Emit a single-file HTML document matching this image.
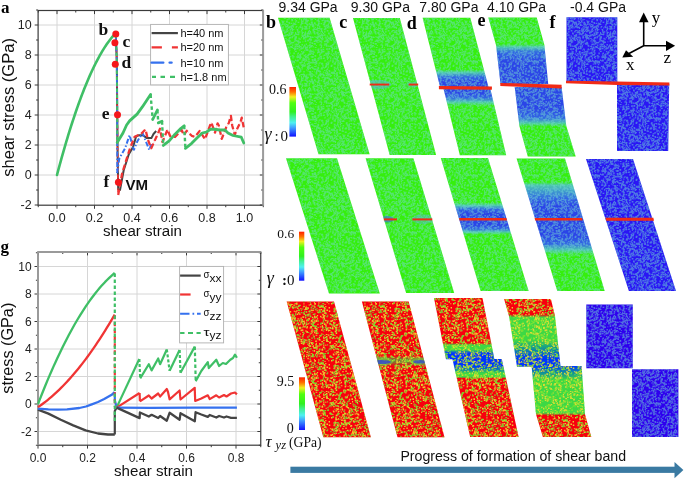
<!DOCTYPE html>
<html><head><meta charset="utf-8"><title>figure</title>
<style>html,body{margin:0;padding:0;background:#fff;} body{width:685px;height:480px;overflow:hidden;} svg{display:block;will-change:transform;}</style>
</head><body>
<svg width="685" height="480" viewBox="0 0 685 480">
<rect width="685" height="480" fill="#fff"/>
<line x1="57.00" y1="10.5" x2="57.00" y2="205.2" stroke="#d6d6d6" stroke-width="1"/>
<line x1="94.50" y1="10.5" x2="94.50" y2="205.2" stroke="#d6d6d6" stroke-width="1"/>
<line x1="132.00" y1="10.5" x2="132.00" y2="205.2" stroke="#d6d6d6" stroke-width="1"/>
<line x1="169.50" y1="10.5" x2="169.50" y2="205.2" stroke="#d6d6d6" stroke-width="1"/>
<line x1="207.00" y1="10.5" x2="207.00" y2="205.2" stroke="#d6d6d6" stroke-width="1"/>
<line x1="244.50" y1="10.5" x2="244.50" y2="205.2" stroke="#d6d6d6" stroke-width="1"/>
<line x1="38.1" y1="175.00" x2="263.2" y2="175.00" stroke="#d6d6d6" stroke-width="1"/>
<line x1="38.1" y1="145.00" x2="263.2" y2="145.00" stroke="#d6d6d6" stroke-width="1"/>
<line x1="38.1" y1="115.00" x2="263.2" y2="115.00" stroke="#d6d6d6" stroke-width="1"/>
<line x1="38.1" y1="85.00" x2="263.2" y2="85.00" stroke="#d6d6d6" stroke-width="1"/>
<line x1="38.1" y1="55.00" x2="263.2" y2="55.00" stroke="#d6d6d6" stroke-width="1"/>
<line x1="38.1" y1="25.00" x2="263.2" y2="25.00" stroke="#d6d6d6" stroke-width="1"/>
<path d="M38.25,205.2v2.0M38.25,10.5v2.0M57.00,205.2v3.6M57.00,10.5v3.6M75.75,205.2v2.0M75.75,10.5v2.0M94.50,205.2v3.6M94.50,10.5v3.6M113.25,205.2v2.0M113.25,10.5v2.0M132.00,205.2v3.6M132.00,10.5v3.6M150.75,205.2v2.0M150.75,10.5v2.0M169.50,205.2v3.6M169.50,10.5v3.6M188.25,205.2v2.0M188.25,10.5v2.0M207.00,205.2v3.6M207.00,10.5v3.6M225.75,205.2v2.0M225.75,10.5v2.0M244.50,205.2v3.6M244.50,10.5v3.6M263.25,205.2v2.0M263.25,10.5v2.0M38.1,205.00h-3.4M263.2,205.00h-3.4M38.1,190.00h-2.0M263.2,190.00h-2.0M38.1,175.00h-3.4M263.2,175.00h-3.4M38.1,160.00h-2.0M263.2,160.00h-2.0M38.1,145.00h-3.4M263.2,145.00h-3.4M38.1,130.00h-2.0M263.2,130.00h-2.0M38.1,115.00h-3.4M263.2,115.00h-3.4M38.1,100.00h-2.0M263.2,100.00h-2.0M38.1,85.00h-3.4M263.2,85.00h-3.4M38.1,70.00h-2.0M263.2,70.00h-2.0M38.1,55.00h-3.4M263.2,55.00h-3.4M38.1,40.00h-2.0M263.2,40.00h-2.0M38.1,25.00h-3.4M263.2,25.00h-3.4M38.1,10.00h-2.0M263.2,10.00h-2.0" stroke="#3a3a3a" stroke-width="1" fill="none"/>
<rect x="38.1" y="10.5" width="225.10" height="194.70" fill="none" stroke="#3a3a3a" stroke-width="1.2"/>
<line x1="263.2" y1="9.9" x2="263.2" y2="205.79999999999998" stroke="#9c9c9c" stroke-width="1.8"/>
<text x="31.60" y="209.40" font-family='"Liberation Sans", sans-serif' font-size="12.5" font-weight="normal" text-anchor="end" fill="#222" >-2</text>
<text x="31.60" y="179.40" font-family='"Liberation Sans", sans-serif' font-size="12.5" font-weight="normal" text-anchor="end" fill="#222" >0</text>
<text x="31.60" y="149.40" font-family='"Liberation Sans", sans-serif' font-size="12.5" font-weight="normal" text-anchor="end" fill="#222" >2</text>
<text x="31.60" y="119.40" font-family='"Liberation Sans", sans-serif' font-size="12.5" font-weight="normal" text-anchor="end" fill="#222" >4</text>
<text x="31.60" y="89.40" font-family='"Liberation Sans", sans-serif' font-size="12.5" font-weight="normal" text-anchor="end" fill="#222" >6</text>
<text x="31.60" y="59.40" font-family='"Liberation Sans", sans-serif' font-size="12.5" font-weight="normal" text-anchor="end" fill="#222" >8</text>
<text x="31.60" y="29.40" font-family='"Liberation Sans", sans-serif' font-size="12.5" font-weight="normal" text-anchor="end" fill="#222" >10</text>
<text x="57.00" y="221.50" font-family='"Liberation Sans", sans-serif' font-size="12.5" font-weight="normal" text-anchor="middle" fill="#222" transform-origin="0 0">0.0</text>
<text x="94.50" y="221.50" font-family='"Liberation Sans", sans-serif' font-size="12.5" font-weight="normal" text-anchor="middle" fill="#222" transform-origin="0 0">0.2</text>
<text x="132.00" y="221.50" font-family='"Liberation Sans", sans-serif' font-size="12.5" font-weight="normal" text-anchor="middle" fill="#222" transform-origin="0 0">0.4</text>
<text x="169.50" y="221.50" font-family='"Liberation Sans", sans-serif' font-size="12.5" font-weight="normal" text-anchor="middle" fill="#222" transform-origin="0 0">0.6</text>
<text x="207.00" y="221.50" font-family='"Liberation Sans", sans-serif' font-size="12.5" font-weight="normal" text-anchor="middle" fill="#222" transform-origin="0 0">0.8</text>
<text x="244.50" y="221.50" font-family='"Liberation Sans", sans-serif' font-size="12.5" font-weight="normal" text-anchor="middle" fill="#222" transform-origin="0 0">1.0</text>
<text x="103.00" y="236.30" font-family='"Liberation Sans", sans-serif' font-size="14" font-weight="normal" text-anchor="start" fill="#111" textLength="79" lengthAdjust="spacingAndGlyphs" >shear strain</text>
<text transform="translate(13.5,176.7) rotate(-90)" font-family='"Liberation Sans", sans-serif' font-size="16" fill="#111" textLength="138.6" lengthAdjust="spacingAndGlyphs">shear stress (GPa)</text>
<text x="1.00" y="13.40" font-family='"Liberation Serif", serif' font-size="17" font-weight="bold" text-anchor="start" fill="#000" >a</text>
<polyline points="57.00,175.00 57.94,171.45 58.88,167.95 59.81,164.49 60.75,161.07 61.69,157.69 62.62,154.35 63.56,151.05 64.50,147.80 65.44,144.59 66.38,141.42 67.31,138.29 68.25,135.20 69.19,132.15 70.12,129.14 71.06,126.18 72.00,123.26 72.94,120.38 73.88,117.54 74.81,114.74 75.75,111.99 76.69,109.27 77.62,106.60 78.56,103.97 79.50,101.38 80.44,98.83 81.38,96.32 82.31,93.86 83.25,91.43 84.19,89.05 85.12,86.71 86.06,84.41 87.00,82.15 87.94,79.94 88.88,77.76 89.81,75.63 90.75,73.54 91.69,71.49 92.62,69.48 93.56,67.52 94.50,65.59 95.44,63.71 96.38,61.86 97.31,60.06 98.25,58.31 99.19,56.59 100.12,54.91 101.06,53.28 102.00,51.69 102.94,50.13 103.88,48.63 104.81,47.16 105.75,45.73 106.69,44.35 107.62,43.00 108.56,41.70 109.50,40.44 110.44,39.22 111.38,38.04 112.31,36.91 113.25,35.81 114.19,34.76" fill="none" stroke="#3fbf66" stroke-width="2.6" stroke-linejoin="round" stroke-linecap="round"/>
<polyline points="115.80,34.50 116.80,60.00 117.20,110.00 117.60,150.00 118.20,190.00" fill="none" stroke="#444444" stroke-width="2.0"/>
<polyline points="115.80,34.50 116.80,60.00 117.20,110.00 117.60,150.00 118.20,195.00" fill="none" stroke="#f03434" stroke-width="1.8" stroke-dasharray="4 3"/>
<polyline points="115.80,36.00 116.80,60.00 117.20,110.00 117.20,173.00" fill="none" stroke="#3571ee" stroke-width="1.8" stroke-dasharray="5 2 1.5 2"/>
<polyline points="115.80,34.50 116.80,60.00 117.20,110.00 117.20,142.50" fill="none" stroke="#3fbf66" stroke-width="2.0" stroke-dasharray="3.5 2.5"/>
<polyline points="118.20,190.00 120.00,190.00 123.70,170.20 128.80,154.20 133.10,146.90 136.00,136.70 139.00,135.20 142.60,135.20 147.00,138.10 151.40,138.10 153.50,134.00 156.20,131.00" fill="none" stroke="#444444" stroke-width="2.0" stroke-linejoin="round"/>
<polyline points="117.10,173.10 119.30,158.50 125.10,148.30 129.50,135.20 133.90,149.80 137.50,141.00 142.60,133.00 146.30,142.50 149.20,149.80 151.40,144.00" fill="none" stroke="#3571ee" stroke-width="2.0" stroke-dasharray="5 2 1.5 2" stroke-linejoin="round"/>
<polyline points="118.20,195.00 122.20,173.10 129.50,149.80 134.60,136.70 141.20,133.70 145.50,129.40 148.00,140.00 151.25,148.30 156.70,136.25 160.00,128.75 162.50,142.00 167.50,129.60 170.00,135.80 175.00,137.00 181.70,130.00 183.75,135.00 186.70,130.80 191.70,135.80 195.00,136.70 199.70,130.90 205.00,139.25 209.70,126.30 211.30,122.60 215.00,132.60 217.60,123.40 218.80,125.50 221.75,138.80 226.30,127.20 228.80,123.00 230.90,115.90 232.20,125.50 234.70,134.70 237.20,128.80 240.50,122.20 241.75,117.60 243.80,128.00" fill="none" stroke="#f03434" stroke-width="0.4" stroke-opacity="0.5"/>
<polyline points="118.20,195.00 122.20,173.10 129.50,149.80 134.60,136.70 141.20,133.70 145.50,129.40 148.00,140.00 151.25,148.30 156.70,136.25 160.00,128.75 162.50,142.00 167.50,129.60 170.00,135.80 175.00,137.00 181.70,130.00 183.75,135.00 186.70,130.80 191.70,135.80 195.00,136.70 199.70,130.90 205.00,139.25 209.70,126.30 211.30,122.60 215.00,132.60 217.60,123.40 218.80,125.50 221.75,138.80 226.30,127.20 228.80,123.00 230.90,115.90 232.20,125.50 234.70,134.70 237.20,128.80 240.50,122.20 241.75,117.60 243.80,128.00" fill="none" stroke="#f03434" stroke-width="2.3" stroke-dasharray="5.5 3" stroke-linejoin="round"/>
<polyline points="117.20,142.50 123.00,133.00 126.60,125.00 129.60,120.90 137.10,114.10 142.50,106.70 150.60,94.50" fill="none" stroke="#3fbf66" stroke-width="2.8" stroke-linejoin="round" stroke-linecap="round"/>
<polyline points="152.70,119.50 157.40,110.00" fill="none" stroke="#3fbf66" stroke-width="2.8" stroke-linejoin="round" stroke-linecap="round"/>
<polyline points="158.30,122.90 162.00,121.25" fill="none" stroke="#3fbf66" stroke-width="2.8" stroke-linejoin="round" stroke-linecap="round"/>
<polyline points="163.30,145.40 169.20,140.80 175.00,134.20 180.00,129.20 184.20,125.80" fill="none" stroke="#3fbf66" stroke-width="2.8" stroke-linejoin="round" stroke-linecap="round"/>
<polyline points="185.40,148.30 191.70,143.30 196.70,138.30 202.20,133.00 206.30,132.20 210.50,129.25 214.70,129.25 219.70,130.00 224.70,129.80 228.00,133.00 233.00,135.50 241.30,137.20 243.80,143.00" fill="none" stroke="#3fbf66" stroke-width="2.8" stroke-linejoin="round" stroke-linecap="round"/>
<polyline points="150.60,94.50 152.70,119.50" fill="none" stroke="#3fbf66" stroke-width="2.4" stroke-dasharray="3.5 2.5"/>
<polyline points="157.40,110.00 158.30,122.90" fill="none" stroke="#3fbf66" stroke-width="2.4" stroke-dasharray="3.5 2.5"/>
<polyline points="162.00,121.25 163.30,145.40" fill="none" stroke="#3fbf66" stroke-width="2.4" stroke-dasharray="3.5 2.5"/>
<polyline points="184.20,125.80 185.40,148.30" fill="none" stroke="#3fbf66" stroke-width="2.4" stroke-dasharray="3.5 2.5"/>
<circle cx="115.8" cy="34.1" r="3.5" fill="#f5171b"/>
<circle cx="114.9" cy="42.7" r="3.5" fill="#f5171b"/>
<circle cx="115.3" cy="64.2" r="3.5" fill="#f5171b"/>
<circle cx="117.5" cy="114.7" r="3.5" fill="#f5171b"/>
<circle cx="118.4" cy="182.2" r="3.5" fill="#f5171b"/>
<text x="98.60" y="34.70" font-family='"Liberation Serif", serif' font-size="17.5" font-weight="bold" text-anchor="start" fill="#111" >b</text>
<text x="122.60" y="47.20" font-family='"Liberation Serif", serif' font-size="17.5" font-weight="bold" text-anchor="start" fill="#111" >c</text>
<text x="121.60" y="67.80" font-family='"Liberation Serif", serif' font-size="17.5" font-weight="bold" text-anchor="start" fill="#111" >d</text>
<text x="101.80" y="119.00" font-family='"Liberation Serif", serif' font-size="17.5" font-weight="bold" text-anchor="start" fill="#111" >e</text>
<text x="103.40" y="187.20" font-family='"Liberation Serif", serif' font-size="17.5" font-weight="bold" text-anchor="start" fill="#111" >f</text>
<text x="125.50" y="190.00" font-family='"Liberation Sans", sans-serif' font-size="14" font-weight="bold" text-anchor="start" fill="#111" textLength="22.6" lengthAdjust="spacingAndGlyphs" >VM</text>
<rect x="150.6" y="24.4" width="77.8" height="60.5" fill="#fff" stroke="#b0b0b0" stroke-width="0.9"/>
<line x1="151.6" y1="33.1" x2="177.9" y2="33.1" stroke="#444444" stroke-width="2.2"/>
<line x1="151.6" y1="47.4" x2="177.9" y2="47.4" stroke="#f03434" stroke-width="2.2" stroke-dasharray="10.3 10 6"/>
<path d="M151.6,62.6H163.3M169.6,62.6H171.6" stroke="#3571ee" stroke-width="2.4" stroke-linecap="round"/>
<path d="M152,76.9h4M160.5,76.9h4.5M170,76.9h5" stroke="#3fbf66" stroke-width="2.2"/>
<text x="180.40" y="37.00" font-family='"Liberation Sans", sans-serif' font-size="11" font-weight="normal" text-anchor="start" fill="#111" >h=40 nm</text>
<text x="180.40" y="51.30" font-family='"Liberation Sans", sans-serif' font-size="11" font-weight="normal" text-anchor="start" fill="#111" >h=20 nm</text>
<text x="180.40" y="66.50" font-family='"Liberation Sans", sans-serif' font-size="11" font-weight="normal" text-anchor="start" fill="#111" >h=10 nm</text>
<text x="180.40" y="80.80" font-family='"Liberation Sans", sans-serif' font-size="11" font-weight="normal" text-anchor="start" fill="#111" >h=1.8 nm</text>
<line x1="87.50" y1="252.0" x2="87.50" y2="445.2" stroke="#d6d6d6" stroke-width="1"/>
<line x1="137.00" y1="252.0" x2="137.00" y2="445.2" stroke="#d6d6d6" stroke-width="1"/>
<line x1="186.50" y1="252.0" x2="186.50" y2="445.2" stroke="#d6d6d6" stroke-width="1"/>
<line x1="236.00" y1="252.0" x2="236.00" y2="445.2" stroke="#d6d6d6" stroke-width="1"/>
<line x1="37.9" y1="431.50" x2="260.75" y2="431.50" stroke="#d6d6d6" stroke-width="1"/>
<line x1="37.9" y1="404.00" x2="260.75" y2="404.00" stroke="#d6d6d6" stroke-width="1"/>
<line x1="37.9" y1="376.50" x2="260.75" y2="376.50" stroke="#d6d6d6" stroke-width="1"/>
<line x1="37.9" y1="349.00" x2="260.75" y2="349.00" stroke="#d6d6d6" stroke-width="1"/>
<line x1="37.9" y1="321.50" x2="260.75" y2="321.50" stroke="#d6d6d6" stroke-width="1"/>
<line x1="37.9" y1="294.00" x2="260.75" y2="294.00" stroke="#d6d6d6" stroke-width="1"/>
<line x1="37.9" y1="266.50" x2="260.75" y2="266.50" stroke="#d6d6d6" stroke-width="1"/>
<path d="M38.00,445.2v3.4M38.00,252.0v3.4M62.75,445.2v2.0M62.75,252.0v2.0M87.50,445.2v3.4M87.50,252.0v3.4M112.25,445.2v2.0M112.25,252.0v2.0M137.00,445.2v3.4M137.00,252.0v3.4M161.75,445.2v2.0M161.75,252.0v2.0M186.50,445.2v3.4M186.50,252.0v3.4M211.25,445.2v2.0M211.25,252.0v2.0M236.00,445.2v3.4M236.00,252.0v3.4M260.75,445.2v2.0M260.75,252.0v2.0M37.9,445.25h-2.0M260.75,445.25h-2.0M37.9,431.50h-3.4M260.75,431.50h-3.4M37.9,417.75h-2.0M260.75,417.75h-2.0M37.9,404.00h-3.4M260.75,404.00h-3.4M37.9,390.25h-2.0M260.75,390.25h-2.0M37.9,376.50h-3.4M260.75,376.50h-3.4M37.9,362.75h-2.0M260.75,362.75h-2.0M37.9,349.00h-3.4M260.75,349.00h-3.4M37.9,335.25h-2.0M260.75,335.25h-2.0M37.9,321.50h-3.4M260.75,321.50h-3.4M37.9,307.75h-2.0M260.75,307.75h-2.0M37.9,294.00h-3.4M260.75,294.00h-3.4M37.9,280.25h-2.0M260.75,280.25h-2.0M37.9,266.50h-3.4M260.75,266.50h-3.4M37.9,252.75h-2.0M260.75,252.75h-2.0" stroke="#3a3a3a" stroke-width="1" fill="none"/>
<rect x="37.9" y="252.0" width="222.85" height="193.20" fill="none" stroke="#3a3a3a" stroke-width="1.2"/>
<line x1="37.9" y1="252.0" x2="37.9" y2="445.2" stroke="#9a9a9a" stroke-width="1.8"/>
<line x1="37.9" y1="252.0" x2="260.75" y2="252.0" stroke="#9a9a9a" stroke-width="1.8"/>
<text x="31.60" y="435.70" font-family='"Liberation Sans", sans-serif' font-size="12" font-weight="normal" text-anchor="end" fill="#222" >-2</text>
<text x="31.60" y="408.20" font-family='"Liberation Sans", sans-serif' font-size="12" font-weight="normal" text-anchor="end" fill="#222" >0</text>
<text x="31.60" y="380.70" font-family='"Liberation Sans", sans-serif' font-size="12" font-weight="normal" text-anchor="end" fill="#222" >2</text>
<text x="31.60" y="353.20" font-family='"Liberation Sans", sans-serif' font-size="12" font-weight="normal" text-anchor="end" fill="#222" >4</text>
<text x="31.60" y="325.70" font-family='"Liberation Sans", sans-serif' font-size="12" font-weight="normal" text-anchor="end" fill="#222" >6</text>
<text x="31.60" y="298.20" font-family='"Liberation Sans", sans-serif' font-size="12" font-weight="normal" text-anchor="end" fill="#222" >8</text>
<text x="31.60" y="270.70" font-family='"Liberation Sans", sans-serif' font-size="12" font-weight="normal" text-anchor="end" fill="#222" >10</text>
<text x="38.00" y="461.60" font-family='"Liberation Sans", sans-serif' font-size="12" font-weight="normal" text-anchor="middle" fill="#222" >0.0</text>
<text x="87.50" y="461.60" font-family='"Liberation Sans", sans-serif' font-size="12" font-weight="normal" text-anchor="middle" fill="#222" >0.2</text>
<text x="137.00" y="461.60" font-family='"Liberation Sans", sans-serif' font-size="12" font-weight="normal" text-anchor="middle" fill="#222" >0.4</text>
<text x="186.50" y="461.60" font-family='"Liberation Sans", sans-serif' font-size="12" font-weight="normal" text-anchor="middle" fill="#222" >0.6</text>
<text x="236.00" y="461.60" font-family='"Liberation Sans", sans-serif' font-size="12" font-weight="normal" text-anchor="middle" fill="#222" >0.8</text>
<text x="114.00" y="475.80" font-family='"Liberation Sans", sans-serif' font-size="14" font-weight="normal" text-anchor="start" fill="#111" textLength="79" lengthAdjust="spacingAndGlyphs" >shear strain</text>
<text transform="translate(13.4,393.7) rotate(-90)" font-family='"Liberation Sans", sans-serif' font-size="16" fill="#111" textLength="91" lengthAdjust="spacingAndGlyphs">stress (GPa)</text>
<text x="0.50" y="252.00" font-family='"Liberation Serif", serif' font-size="17" font-weight="bold" text-anchor="start" fill="#000" >g</text>
<polyline points="37.90,409.60 48.40,413.60 60.80,419.80 73.20,425.40 85.60,430.40 98.00,433.50 108.00,434.50 114.80,434.50" fill="none" stroke="#444444" stroke-width="2.3" stroke-linejoin="round"/>
<polyline points="37.90,408.60 48.40,409.30 58.00,409.60 67.00,409.30 79.40,408.00 86.00,406.50 91.80,404.30 98.00,402.00 104.20,399.00 111.70,394.80 114.60,392.20" fill="none" stroke="#3571ee" stroke-width="2.3" stroke-linejoin="round"/>
<polyline points="38.00,407.16 39.92,405.84 41.84,404.46 43.75,403.04 45.67,401.56 47.59,400.04 49.51,398.46 51.43,396.83 53.34,395.15 55.26,393.42 57.18,391.64 59.10,389.81 61.02,387.92 62.94,385.99 64.85,384.01 66.77,381.97 68.69,379.88 70.61,377.75 72.53,375.56 74.44,373.32 76.36,371.03 78.28,368.69 80.20,366.30 82.12,363.85 84.03,361.36 85.95,358.82 87.87,356.22 89.79,353.58 91.71,350.88 93.63,348.13 95.54,345.33 97.46,342.48 99.38,339.58 101.30,336.63 103.22,333.63 105.13,330.58 107.05,327.47 108.97,324.32 110.89,321.11 112.81,317.85 114.72,314.55" fill="none" stroke="#f03434" stroke-width="2.3" stroke-linejoin="round"/>
<polyline points="38.00,404.00 39.92,399.07 41.84,394.22 43.75,389.45 45.67,384.77 47.59,380.18 49.51,375.67 51.43,371.25 53.34,366.91 55.26,362.66 57.18,358.49 59.10,354.41 61.02,350.41 62.94,346.49 64.85,342.67 66.77,338.92 68.69,335.26 70.61,331.69 72.53,328.20 74.44,324.80 76.36,321.48 78.28,318.25 80.20,315.10 82.12,312.04 84.03,309.06 85.95,306.17 87.87,303.36 89.79,300.64 91.71,298.00 93.63,295.45 95.54,292.98 97.46,290.60 99.38,288.31 101.30,286.09 103.22,283.97 105.13,281.92 107.05,279.97 108.97,278.10 110.89,276.31 112.81,274.61 114.72,272.99" fill="none" stroke="#3fbf66" stroke-width="2.3" stroke-linejoin="round"/>
<polyline points="114.80,434.50 114.80,411.00 116.60,407.60" fill="none" stroke="#444444" stroke-width="2.2"/>
<polyline points="114.80,392.20 114.80,400.00 116.60,407.60" fill="none" stroke="#3571ee" stroke-width="2.2"/>
<polyline points="114.80,315.31 114.80,407.00" fill="none" stroke="#f03434" stroke-width="2.2" stroke-dasharray="4 3"/>
<polyline points="114.80,273.38 114.80,422.00" fill="none" stroke="#3fbf66" stroke-width="2.2" stroke-dasharray="3.5 2.5"/>
<polyline points="116.60,407.60 139.30,359.00" fill="none" stroke="#3fbf66" stroke-width="2.2"/>
<polyline points="139.30,359.00 140.20,378.40" fill="none" stroke="#3fbf66" stroke-width="2.2" stroke-dasharray="3 2"/>
<polyline points="140.20,378.40 148.80,364.20 151.60,370.40 158.20,358.50 160.10,364.20 166.80,349.50" fill="none" stroke="#3fbf66" stroke-width="2.2" stroke-linejoin="round"/>
<polyline points="166.80,349.50 169.60,370.80" fill="none" stroke="#3fbf66" stroke-width="2.2" stroke-dasharray="3 2"/>
<polyline points="169.60,370.80 179.60,350.00" fill="none" stroke="#3fbf66" stroke-width="2.2" stroke-linejoin="round"/>
<polyline points="179.60,350.00 180.50,372.70" fill="none" stroke="#3fbf66" stroke-width="2.2" stroke-dasharray="3 2"/>
<polyline points="180.50,372.70 194.80,346.60" fill="none" stroke="#3fbf66" stroke-width="2.2" stroke-linejoin="round"/>
<polyline points="194.80,346.60 195.70,380.50" fill="none" stroke="#3fbf66" stroke-width="2.2" stroke-dasharray="3.5 2.5"/>
<polyline points="195.70,381.30 201.30,371.00 207.80,362.10 208.80,368.10 216.30,359.70 219.10,366.00 222.80,363.00 226.00,364.00 230.30,359.70 233.00,358.00 235.00,354.60 236.90,357.80" fill="none" stroke="#3fbf66" stroke-width="2.2" stroke-linejoin="round"/>
<polyline points="116.60,407.60 139.60,393.00" fill="none" stroke="#f03434" stroke-width="2.2"/>
<polyline points="139.60,393.00 139.90,401.30" fill="none" stroke="#f03434" stroke-width="2.2"/>
<polyline points="139.90,401.30 148.80,395.50 151.60,398.50 158.20,393.50 160.10,396.50 166.80,389.00 168.00,392.00 169.60,399.30 179.60,390.50 180.50,399.50 194.70,387.80 195.20,401.00 201.30,398.50 207.80,395.30 209.70,399.10 216.30,395.30 219.10,397.50 224.00,395.00 226.50,396.50 231.00,393.50 235.00,392.50 236.90,394.40" fill="none" stroke="#f03434" stroke-width="2.2" stroke-linejoin="round"/>
<polyline points="116.60,407.60 150.00,407.80 195.00,407.60 236.90,407.60" fill="none" stroke="#3571ee" stroke-width="2.3"/>
<polyline points="116.60,407.60 139.60,418.10 139.90,412.50 148.80,416.50 151.60,414.80 158.20,418.00 160.10,416.00 166.80,420.70 169.60,412.80 179.60,419.70 180.50,413.20 194.80,421.30 195.60,412.20 201.30,414.50 207.80,416.90 209.70,415.00 216.30,417.50 219.10,416.00 224.00,417.50 226.50,416.50 231.00,417.80 236.90,417.90" fill="none" stroke="#444444" stroke-width="2.3" stroke-linejoin="round"/>
<rect x="179.6" y="266.4" width="44" height="76.5" fill="#fff" stroke="#b0b0b0" stroke-width="0.9"/>
<line x1="180.1" y1="275.6" x2="200.7" y2="275.6" stroke="#444444" stroke-width="2.2"/>
<line x1="180.1" y1="294.5" x2="190.6" y2="294.5" stroke="#f03434" stroke-width="2.2"/>
<path d="M180.1,313.75H189.5M192.5,313.75H194.2M197,313.75H200.7" stroke="#3571ee" stroke-width="2.2"/>
<path d="M180.1,333.0H184.5M188,333.0H193M196.5,333.0H200.7" stroke="#3fbf66" stroke-width="2.2"/>
<text x="203.60" y="278.20" font-family='"Liberation Sans", sans-serif' font-size="10" font-weight="normal" text-anchor="start" fill="#111" textLength="6.0" lengthAdjust="spacingAndGlyphs" >σ</text>
<text x="209.60" y="281.60" font-family='"Liberation Sans", sans-serif' font-size="11.5" font-weight="normal" text-anchor="start" fill="#111" textLength="12.0" lengthAdjust="spacingAndGlyphs" >xx</text>
<text x="203.60" y="297.10" font-family='"Liberation Sans", sans-serif' font-size="10" font-weight="normal" text-anchor="start" fill="#111" textLength="6.0" lengthAdjust="spacingAndGlyphs" >σ</text>
<text x="209.60" y="300.50" font-family='"Liberation Sans", sans-serif' font-size="11.5" font-weight="normal" text-anchor="start" fill="#111" textLength="12.0" lengthAdjust="spacingAndGlyphs" >yy</text>
<text x="203.60" y="316.35" font-family='"Liberation Sans", sans-serif' font-size="10" font-weight="normal" text-anchor="start" fill="#111" textLength="6.0" lengthAdjust="spacingAndGlyphs" >σ</text>
<text x="209.60" y="319.75" font-family='"Liberation Sans", sans-serif' font-size="11.5" font-weight="normal" text-anchor="start" fill="#111" textLength="12.0" lengthAdjust="spacingAndGlyphs" >zz</text>
<text x="203.60" y="335.60" font-family='"Liberation Sans", sans-serif' font-size="10" font-weight="normal" text-anchor="start" fill="#111" textLength="6.0" lengthAdjust="spacingAndGlyphs" >τ</text>
<text x="209.60" y="339.00" font-family='"Liberation Sans", sans-serif' font-size="11.5" font-weight="normal" text-anchor="start" fill="#111" textLength="12.0" lengthAdjust="spacingAndGlyphs" >yz</text>
<defs>
<pattern id="pc" patternUnits="userSpaceOnUse" width="61" height="57"><path d="M27.6 31.9h1.7v1.3h-1.7zM31.0 33.5h1.0v1.3h-1.0zM38.4 45.2h0.9v1.1h-0.9zM5.5 46.1h1.5v0.8h-1.5zM59.9 55.0h1.5v1.4h-1.5zM-1.1 55.0h1.5v1.4h-1.5zM9.6 0.9h1.3v0.9h-1.3zM11.6 13.8h0.8v1.3h-0.8zM26.9 48.0h1.3v1.4h-1.3zM30.5 37.8h1.3v1.1h-1.3zM60.9 56.8h1.6v1.5h-1.6zM60.9 -0.2h1.6v1.5h-1.6zM-0.1 56.8h1.6v1.5h-1.6zM-0.1 -0.2h1.6v1.5h-1.6zM19.2 13.1h1.1v0.9h-1.1zM46.7 22.8h1.6v1.2h-1.6zM58.4 48.3h0.8v1.0h-0.8zM55.5 26.8h1.8v1.2h-1.8zM4.5 35.9h1.6v1.1h-1.6zM5.3 19.0h1.8v1.6h-1.8zM7.2 14.0h0.9v0.9h-0.9zM48.6 10.1h1.4v1.2h-1.4zM11.6 41.7h0.9v1.4h-0.9zM7.1 24.0h1.0v1.1h-1.0zM59.2 45.8h1.1v1.7h-1.1zM12.9 22.5h1.7v1.4h-1.7zM6.1 56.4h1.0v1.1h-1.0zM6.1 -0.6h1.0v1.1h-1.0zM47.1 18.8h1.1v0.9h-1.1zM5.5 33.2h1.0v1.4h-1.0zM22.7 25.8h1.8v1.3h-1.8zM35.0 49.4h1.0v1.0h-1.0zM55.4 46.6h1.0v1.0h-1.0zM45.1 53.6h1.0v1.8h-1.0zM53.8 34.4h1.2v0.9h-1.2zM2.4 54.9h1.0v1.5h-1.0zM15.7 47.0h1.4v1.1h-1.4zM10.7 41.1h0.9v1.0h-0.9zM34.1 48.6h1.4v1.1h-1.4zM56.0 11.6h0.8v1.1h-0.8zM27.2 3.4h1.0v1.2h-1.0zM34.9 7.5h1.2v1.7h-1.2zM59.8 37.4h1.5v1.4h-1.5zM-1.2 37.4h1.5v1.4h-1.5zM8.6 2.0h0.8v1.7h-0.8zM42.8 54.9h0.8v1.4h-0.8zM29.4 41.6h1.1v1.8h-1.1zM4.6 31.1h1.5v1.7h-1.5zM45.0 40.1h1.6v1.7h-1.6zM21.5 39.1h1.7v1.7h-1.7zM25.4 45.1h1.7v1.4h-1.7zM38.1 21.8h1.4v1.4h-1.4zM4.9 36.4h1.8v1.7h-1.8zM44.4 22.1h1.5v1.4h-1.5zM26.9 47.8h0.9v1.6h-0.9zM1.8 34.3h1.3v1.0h-1.3zM42.6 28.3h1.4v1.7h-1.4zM15.6 0.6h1.1v1.5h-1.1zM12.4 9.7h1.7v1.5h-1.7zM27.0 50.8h1.1v1.5h-1.1zM12.1 24.6h1.6v1.7h-1.6zM53.7 21.9h1.4v1.1h-1.4zM8.3 28.3h1.6v1.6h-1.6zM43.4 54.2h1.1v1.0h-1.1zM27.5 15.7h1.0v1.2h-1.0zM38.2 28.2h1.1v1.6h-1.1zM59.9 25.8h0.9v0.8h-0.9zM53.2 2.4h1.5v1.4h-1.5zM18.9 45.1h0.8v0.9h-0.8zM27.7 1.4h1.6v1.0h-1.6zM8.6 2.7h1.4v1.2h-1.4zM38.4 37.3h1.6v1.8h-1.6zM41.8 11.4h1.3v1.0h-1.3zM0.7 26.9h1.5v1.0h-1.5zM16.6 19.7h1.5v1.3h-1.5zM37.5 43.1h1.2v1.6h-1.2zM55.3 5.0h1.7v1.5h-1.7zM7.9 25.9h1.4v1.7h-1.4zM23.0 32.4h1.7v1.6h-1.7zM57.6 26.4h1.5v1.0h-1.5zM44.0 46.6h1.4v1.5h-1.4zM13.0 51.3h1.8v1.8h-1.8zM32.8 45.1h1.1v1.7h-1.1zM52.2 19.9h0.9v1.2h-0.9zM33.6 43.8h1.3v0.8h-1.3zM49.4 3.7h1.6v1.0h-1.6zM20.4 44.9h0.9v0.9h-0.9zM31.5 41.2h1.6v1.5h-1.6zM57.7 28.1h1.7v0.9h-1.7zM13.5 30.0h1.1v1.5h-1.1zM39.0 29.8h1.6v1.4h-1.6zM19.0 21.7h1.6v1.7h-1.6zM12.7 48.5h1.8v1.3h-1.8zM35.0 11.5h1.3v1.3h-1.3zM36.9 1.6h1.8v1.3h-1.8zM24.4 45.7h1.4v1.3h-1.4zM42.2 3.8h1.3v1.2h-1.3zM58.4 52.6h1.1v1.3h-1.1zM7.7 24.7h1.6v1.7h-1.6zM29.1 18.1h1.0v1.4h-1.0zM56.4 7.4h1.6v0.8h-1.6zM11.8 13.0h1.5v1.1h-1.5zM21.7 35.3h0.9v1.5h-0.9zM7.5 29.1h1.1v1.0h-1.1zM32.4 24.9h1.2v1.2h-1.2zM32.3 9.1h1.0v1.4h-1.0zM38.9 30.2h1.7v1.4h-1.7zM52.3 13.3h1.5v1.6h-1.5zM55.1 18.0h1.1v1.7h-1.1zM13.3 56.9h1.7v0.9h-1.7zM13.3 -0.1h1.7v0.9h-1.7zM14.6 41.4h1.1v0.9h-1.1zM50.8 24.0h1.6v0.9h-1.6zM24.6 39.1h0.8v1.0h-0.8zM41.6 51.9h1.8v0.9h-1.8zM30.8 43.2h1.3v1.5h-1.3zM11.5 4.0h0.9v0.8h-0.9zM33.7 29.3h1.4v0.9h-1.4zM11.3 11.6h1.6v1.8h-1.6zM56.5 5.4h0.9v1.8h-0.9zM28.2 43.6h1.1v1.3h-1.1zM31.4 24.5h1.4v0.8h-1.4zM42.8 48.1h1.0v1.3h-1.0zM45.1 23.1h1.0v1.0h-1.0zM31.3 0.9h1.7v1.6h-1.7zM43.0 49.1h1.4v1.2h-1.4zM36.6 28.7h1.8v1.6h-1.8zM15.8 51.9h1.5v1.6h-1.5zM49.7 23.1h1.7v1.7h-1.7zM42.4 43.7h1.6v1.2h-1.6zM44.1 4.0h1.1v1.3h-1.1zM0.6 20.3h1.4v1.4h-1.4zM14.2 53.8h1.5v1.1h-1.5zM40.2 32.5h1.3v1.2h-1.3zM61.0 36.6h1.5v1.6h-1.5zM-0.0 36.6h1.5v1.6h-1.5zM59.8 1.3h1.4v1.5h-1.4zM-1.2 1.3h1.4v1.5h-1.4zM15.7 22.9h0.9v1.0h-0.9zM22.9 5.6h1.1v1.7h-1.1zM33.6 28.9h1.8v1.4h-1.8zM60.7 36.4h1.6v0.9h-1.6zM-0.3 36.4h1.6v0.9h-1.6zM36.4 43.3h0.8v1.7h-0.8zM9.8 26.9h1.0v1.3h-1.0zM37.3 3.3h1.7v1.2h-1.7zM32.1 34.1h1.2v1.1h-1.2zM40.0 32.0h1.1v1.5h-1.1zM18.1 0.8h1.0v0.8h-1.0zM9.6 43.0h1.2v1.7h-1.2zM45.7 2.9h1.8v1.7h-1.8zM4.5 51.6h1.2v1.3h-1.2zM59.4 13.9h1.3v1.7h-1.3zM44.1 26.7h1.8v1.6h-1.8zM36.8 6.6h1.4v1.3h-1.4zM12.4 3.0h1.3v0.9h-1.3zM27.0 38.1h1.3v1.1h-1.3zM35.5 23.9h1.6v1.3h-1.6zM60.9 54.3h1.5v1.0h-1.5zM-0.1 54.3h1.5v1.0h-1.5zM6.9 50.9h1.6v1.4h-1.6zM21.9 15.5h1.5v1.4h-1.5zM36.1 36.1h1.6v1.0h-1.6zM15.2 55.8h1.7v1.7h-1.7zM15.2 -1.2h1.7v1.7h-1.7zM2.4 3.5h1.1v1.2h-1.1zM38.0 5.8h1.3v0.9h-1.3zM5.3 38.5h1.4v1.4h-1.4zM22.8 27.3h1.0v1.1h-1.0zM45.4 47.8h0.9v0.9h-0.9zM49.4 35.6h1.6v1.0h-1.6zM25.9 14.7h1.6v1.2h-1.6zM39.9 56.4h1.1v1.3h-1.1zM39.9 -0.6h1.1v1.3h-1.1zM45.5 52.5h1.2v1.2h-1.2zM5.9 49.9h0.9v0.9h-0.9zM34.4 27.6h1.5v1.1h-1.5zM47.3 4.3h1.0v1.5h-1.0zM5.0 17.3h1.5v1.5h-1.5zM17.3 8.1h1.2v1.5h-1.2zM22.4 6.7h1.5v1.4h-1.5zM56.0 53.6h1.7v1.2h-1.7zM49.0 17.4h1.1v1.2h-1.1zM57.0 51.0h1.0v1.2h-1.0zM22.3 20.7h1.2v1.2h-1.2zM11.9 32.1h1.6v1.3h-1.6zM51.0 32.1h1.0v1.6h-1.0zM53.7 16.0h0.8v1.3h-0.8zM33.2 32.3h1.8v1.5h-1.8zM49.1 3.7h1.3v1.6h-1.3zM5.1 4.7h1.5v1.7h-1.5zM5.2 36.1h0.9v1.5h-0.9zM39.6 14.0h1.0v1.6h-1.0zM31.8 43.6h1.2v1.1h-1.2zM59.1 38.3h1.3v1.3h-1.3zM44.0 40.4h1.7v1.2h-1.7zM50.4 38.0h1.7v1.6h-1.7zM50.9 50.7h1.8v1.4h-1.8zM32.0 40.5h1.6v1.2h-1.6zM25.6 8.3h1.5v1.8h-1.5zM22.9 9.6h1.0v1.2h-1.0zM17.8 55.3h0.9v1.1h-0.9zM7.0 36.9h1.6v1.0h-1.6zM3.8 26.1h1.4v1.7h-1.4zM2.2 6.2h1.0v1.0h-1.0zM14.4 40.9h1.4v1.0h-1.4zM11.3 16.0h1.0v1.6h-1.0zM19.0 31.2h1.6v1.3h-1.6zM15.9 50.6h1.7v1.1h-1.7zM33.4 54.6h1.3v1.0h-1.3zM3.0 54.0h1.6v1.2h-1.6zM32.2 29.4h1.1v1.8h-1.1zM40.1 13.5h0.8v1.3h-0.8zM22.7 45.4h1.5v1.4h-1.5zM9.6 8.9h1.1v1.1h-1.1zM53.0 29.4h1.4v1.8h-1.4zM16.3 30.5h1.0v1.6h-1.0zM0.1 46.8h1.6v1.6h-1.6zM5.0 15.4h1.5v0.9h-1.5zM29.3 26.7h1.8v1.4h-1.8zM52.3 17.3h1.6v1.2h-1.6zM55.9 5.2h1.6v1.0h-1.6zM33.1 30.0h1.0v1.6h-1.0zM19.0 17.7h0.9v1.1h-0.9zM28.5 40.8h1.2v1.5h-1.2zM6.5 22.5h1.3v1.8h-1.3zM50.6 37.3h0.8v1.2h-0.8zM43.3 13.5h1.4v1.3h-1.4zM0.6 56.5h1.6v1.0h-1.6zM0.6 -0.5h1.6v1.0h-1.6zM37.6 16.6h1.2v1.3h-1.2zM18.2 19.2h1.2v1.5h-1.2zM15.6 11.4h1.5v1.1h-1.5zM57.6 32.1h1.5v1.1h-1.5zM50.4 5.3h0.9v0.9h-0.9zM41.3 40.4h1.0v1.2h-1.0zM51.1 33.8h0.9v1.0h-0.9zM9.6 7.1h1.2v0.9h-1.2zM56.2 24.3h1.3v1.4h-1.3zM46.8 46.8h1.2v1.1h-1.2zM25.1 0.9h1.2v1.5h-1.2zM59.9 45.0h1.5v1.4h-1.5zM-1.1 45.0h1.5v1.4h-1.5zM1.1 18.9h1.1v1.5h-1.1zM6.5 21.5h1.3v1.6h-1.3zM50.3 34.9h1.0v1.6h-1.0zM55.1 31.3h1.2v1.3h-1.2zM8.6 40.7h1.8v1.3h-1.8zM43.6 47.6h1.0v1.7h-1.0zM38.3 11.3h0.9v1.0h-0.9zM35.2 39.7h1.1v1.7h-1.1zM22.0 26.4h0.9v1.8h-0.9zM8.3 51.5h1.3v1.4h-1.3zM34.2 15.1h1.7v1.8h-1.7zM49.9 34.3h0.9v1.6h-0.9zM17.6 51.1h1.0v1.4h-1.0zM50.7 10.6h1.3v0.9h-1.3zM2.0 10.3h1.8v1.7h-1.8zM40.2 17.5h1.5v1.5h-1.5zM23.3 33.7h1.6v0.8h-1.6zM12.2 26.7h0.9v1.2h-0.9zM34.7 9.9h1.3v1.1h-1.3zM34.7 18.9h1.4v0.8h-1.4zM40.9 8.3h1.8v1.4h-1.8zM28.7 23.5h1.4v1.5h-1.4zM46.2 42.8h1.3v1.8h-1.3zM51.1 48.7h1.2v1.2h-1.2zM34.5 51.6h1.3v1.3h-1.3zM26.4 51.5h1.1v0.9h-1.1zM44.3 51.3h1.5v1.4h-1.5zM45.9 17.4h1.4v0.9h-1.4zM7.6 25.5h1.3v1.2h-1.3zM3.2 39.6h1.3v1.0h-1.3zM18.7 22.5h1.0v0.9h-1.0zM55.6 55.1h1.5v1.7h-1.5zM25.7 45.9h1.0v1.5h-1.0zM34.6 51.5h0.9v1.6h-0.9zM7.6 30.6h1.8v0.8h-1.8zM14.9 17.1h1.1v0.9h-1.1zM54.6 46.5h1.2v1.2h-1.2zM35.7 2.6h0.8v1.7h-0.8zM18.8 28.4h1.7v1.8h-1.7zM28.8 11.8h1.1v1.7h-1.1zM54.7 11.1h1.6v1.2h-1.6zM28.8 9.8h1.7v1.8h-1.7zM12.3 36.0h1.0v1.7h-1.0zM3.1 6.0h1.5v1.1h-1.5zM54.9 49.6h1.5v0.9h-1.5zM42.5 53.5h1.2v0.9h-1.2zM13.6 17.5h1.5v1.0h-1.5zM11.0 13.4h1.5v1.6h-1.5zM22.7 37.7h1.7v1.4h-1.7zM14.0 17.2h1.7v1.5h-1.7zM16.9 36.5h0.9v1.8h-0.9zM26.9 30.1h1.3v0.8h-1.3zM36.6 16.2h1.1v1.6h-1.1zM5.3 16.3h1.6v1.0h-1.6zM17.0 31.2h1.0v1.7h-1.0zM60.3 1.9h1.3v1.6h-1.3zM-0.7 1.9h1.3v1.6h-1.3zM23.5 53.0h1.3v1.0h-1.3zM33.9 36.8h1.2v1.5h-1.2zM47.8 29.5h1.3v1.6h-1.3zM41.7 29.7h1.8v1.0h-1.8zM47.6 9.4h1.4v1.0h-1.4zM26.9 44.1h1.6v1.6h-1.6zM14.4 27.9h1.0v1.4h-1.0zM30.4 2.0h1.4v1.5h-1.4zM34.9 49.8h1.0v1.0h-1.0zM1.1 28.3h1.2v1.2h-1.2zM16.0 45.5h0.9v1.7h-0.9zM34.7 31.0h1.6v1.0h-1.6zM8.9 17.7h0.8v1.1h-0.8zM37.9 30.0h1.1v1.4h-1.1zM5.4 46.8h1.0v1.1h-1.0zM9.7 39.4h1.6v1.6h-1.6zM3.7 23.4h1.2v1.0h-1.2zM59.2 2.4h1.3v1.6h-1.3zM60.2 8.2h1.3v1.5h-1.3zM-0.8 8.2h1.3v1.5h-1.3zM2.4 13.7h1.7v0.9h-1.7zM24.0 17.0h1.2v0.9h-1.2zM2.1 56.8h1.6v1.5h-1.6zM2.1 -0.2h1.6v1.5h-1.6zM14.0 14.4h1.4v1.0h-1.4zM28.2 53.1h1.2v1.1h-1.2zM59.9 34.8h0.8v1.2h-0.8zM39.6 3.3h1.1v1.5h-1.1zM52.7 33.7h1.7v1.3h-1.7zM24.0 48.1h1.2v1.6h-1.2zM13.1 19.8h1.0v1.3h-1.0zM10.0 11.6h1.0v1.3h-1.0zM18.8 25.5h1.8v1.5h-1.8zM52.6 11.7h1.2v0.9h-1.2zM42.2 20.7h1.1v0.8h-1.1zM11.1 15.0h1.2v1.7h-1.2zM43.6 15.3h1.2v1.0h-1.2zM57.1 20.5h1.6v1.5h-1.6zM55.3 1.2h1.1v1.2h-1.1zM5.1 50.3h1.1v1.6h-1.1zM31.7 3.1h1.2v1.0h-1.2zM2.5 8.6h1.4v0.8h-1.4zM19.0 24.2h1.3v0.9h-1.3zM43.1 14.8h1.5v1.5h-1.5zM9.0 11.7h1.1v1.5h-1.1zM24.7 22.0h1.7v1.0h-1.7zM17.8 19.7h1.0v0.8h-1.0zM1.5 35.9h1.4v1.6h-1.4zM59.5 17.0h1.5v1.7h-1.5zM13.2 39.3h1.5v1.8h-1.5zM53.0 13.4h1.4v0.9h-1.4zM26.1 22.4h0.9v1.2h-0.9zM20.0 28.3h1.1v1.0h-1.1zM24.5 27.1h1.0v1.5h-1.0zM14.6 5.3h1.1v1.2h-1.1zM9.2 33.2h1.5v1.4h-1.5zM42.7 1.3h1.2v1.2h-1.2zM3.8 23.0h0.9v1.3h-0.9zM35.7 26.7h1.1v1.1h-1.1zM1.4 19.8h1.7v1.4h-1.7zM16.0 38.1h1.0v1.3h-1.0zM37.5 54.4h1.2v1.4h-1.2zM57.5 44.0h1.4v1.4h-1.4zM25.1 23.7h1.1v1.6h-1.1zM53.7 21.8h1.7v0.8h-1.7zM8.3 28.9h1.1v1.2h-1.1zM59.6 8.5h1.0v1.0h-1.0zM41.5 13.4h0.8v1.3h-0.8zM24.0 13.6h1.3v1.5h-1.3zM33.4 35.6h1.4v1.6h-1.4zM59.1 19.0h1.1v1.7h-1.1zM19.1 40.8h1.5v1.5h-1.5zM58.8 47.0h1.0v1.4h-1.0zM29.9 32.1h1.2v1.1h-1.2zM45.7 30.4h1.0v1.0h-1.0zM19.8 10.1h1.3v0.9h-1.3zM3.9 3.9h0.9v1.5h-0.9zM6.9 25.7h1.6v1.3h-1.6zM9.9 49.4h1.7v0.9h-1.7zM15.5 28.9h1.6v1.2h-1.6zM43.7 14.4h1.5v1.1h-1.5zM20.4 43.3h1.6v1.6h-1.6zM34.6 24.0h1.5v1.4h-1.5zM50.7 45.7h0.9v1.2h-0.9zM40.8 13.2h1.0v0.8h-1.0zM35.7 53.6h1.8v0.9h-1.8zM41.9 23.9h1.4v1.2h-1.4zM56.9 56.4h0.8v1.5h-0.8zM56.9 -0.6h0.8v1.5h-0.8zM7.2 2.4h1.1v1.5h-1.1zM60.6 6.8h1.1v0.8h-1.1zM-0.4 6.8h1.1v0.8h-1.1zM33.1 27.5h1.2v1.1h-1.2zM48.8 47.8h1.1v1.2h-1.1zM37.7 43.6h1.8v1.2h-1.8zM42.3 31.1h1.6v0.9h-1.6zM10.7 6.1h1.7v1.1h-1.7zM29.8 6.9h1.1v0.8h-1.1zM34.5 8.2h1.4v1.1h-1.4zM13.9 27.5h1.2v1.1h-1.2zM3.1 3.7h1.7v1.1h-1.7zM4.8 10.4h1.3v1.8h-1.3zM12.3 49.4h1.3v1.2h-1.3zM49.2 22.6h0.9v1.4h-0.9zM40.1 35.5h1.1v1.7h-1.1zM52.7 56.7h1.2v1.6h-1.2zM52.7 -0.3h1.2v1.6h-1.2zM44.2 10.0h0.8v1.0h-0.8zM7.2 4.3h1.2v1.6h-1.2zM18.9 29.3h0.8v1.0h-0.8zM58.5 0.6h1.3v1.6h-1.3zM48.3 41.9h1.2v1.6h-1.2zM50.5 43.8h1.8v0.9h-1.8zM58.0 22.9h1.5v1.1h-1.5zM55.5 1.3h1.4v1.0h-1.4zM23.7 21.1h1.5v1.6h-1.5zM22.2 36.4h1.2v1.1h-1.2zM55.2 18.3h0.9v1.1h-0.9zM45.2 12.0h1.5v1.3h-1.5zM41.5 10.1h0.9v0.9h-0.9zM21.4 24.6h0.8v1.3h-0.8zM24.6 18.3h1.3v1.8h-1.3zM12.5 50.2h1.1v1.6h-1.1zM6.6 56.3h1.2v1.8h-1.2zM6.6 -0.7h1.2v1.8h-1.2zM13.4 23.3h1.5v1.0h-1.5zM16.7 38.6h1.7v1.1h-1.7zM11.2 20.4h1.8v0.9h-1.8zM38.7 21.6h1.4v1.0h-1.4zM37.6 50.6h1.7v1.4h-1.7zM30.8 32.4h0.9v1.6h-0.9zM42.1 25.8h1.5v1.2h-1.5zM23.5 13.1h1.4v1.4h-1.4zM31.4 1.8h1.4v1.2h-1.4zM36.2 33.9h1.7v1.0h-1.7zM28.6 56.6h1.5v1.1h-1.5zM28.6 -0.4h1.5v1.1h-1.5zM44.9 56.4h1.2v1.7h-1.2zM44.9 -0.6h1.2v1.7h-1.2zM7.7 56.4h1.3v1.0h-1.3zM7.7 -0.6h1.3v1.0h-1.3zM51.3 37.0h1.7v1.6h-1.7zM48.7 29.2h1.8v0.9h-1.8zM53.1 40.6h1.1v1.6h-1.1zM27.7 30.6h1.7v1.0h-1.7zM17.1 36.7h0.9v1.4h-0.9zM48.0 28.0h1.0v1.6h-1.0zM52.2 43.9h1.3v1.7h-1.3zM48.6 8.7h1.2v0.9h-1.2zM2.2 19.7h1.7v1.6h-1.7zM7.2 10.4h1.2v1.6h-1.2zM37.6 51.4h0.9v1.8h-0.9zM12.6 35.9h1.7v1.5h-1.7zM12.0 38.1h1.2v0.8h-1.2zM20.7 18.0h1.4v1.1h-1.4zM36.8 39.6h1.0v0.9h-1.0zM42.3 26.6h0.9v0.9h-0.9zM57.4 34.8h1.2v1.0h-1.2zM60.7 39.4h1.5v1.2h-1.5zM-0.3 39.4h1.5v1.2h-1.5zM18.9 23.3h0.9v1.4h-0.9zM25.9 46.7h1.2v1.3h-1.2zM30.9 53.7h1.1v1.5h-1.1zM14.3 33.0h1.1v1.7h-1.1zM17.5 48.7h1.5v1.3h-1.5zM57.0 22.1h1.5v1.4h-1.5zM27.4 3.7h1.2v1.1h-1.2zM26.9 54.4h1.1v1.5h-1.1zM41.0 13.9h1.2v0.9h-1.2zM54.6 14.3h1.2v1.1h-1.2zM50.1 48.5h1.4v1.3h-1.4zM6.1 51.1h0.9v1.2h-0.9zM22.8 41.2h1.5v1.1h-1.5zM54.8 54.1h0.8v1.4h-0.8zM28.6 20.6h1.3v1.1h-1.3zM40.9 34.5h1.8v1.8h-1.8zM60.5 22.5h1.6v1.4h-1.6zM-0.5 22.5h1.6v1.4h-1.6zM42.8 56.9h0.9v1.3h-0.9zM42.8 -0.1h0.9v1.3h-0.9zM24.5 37.4h1.0v1.8h-1.0zM12.8 21.1h0.9v1.2h-0.9zM45.3 4.8h1.0v1.4h-1.0zM38.0 42.3h1.1v1.6h-1.1zM44.6 44.2h0.9v1.3h-0.9zM1.0 49.0h1.7v1.7h-1.7zM1.5 20.0h1.3v1.3h-1.3zM6.8 45.0h1.1v1.3h-1.1zM7.6 32.4h0.9v0.9h-0.9zM31.2 16.8h1.6v1.0h-1.6zM25.2 3.1h1.0v1.3h-1.0zM34.0 26.2h1.7v0.9h-1.7zM51.9 8.8h1.8v1.3h-1.8zM24.8 34.9h1.7v1.8h-1.7zM25.2 0.6h1.0v1.6h-1.0zM44.8 40.6h1.0v1.3h-1.0zM1.7 6.3h1.1v1.8h-1.1zM39.2 48.3h0.8v1.2h-0.8zM4.8 14.9h0.9v1.7h-0.9zM20.1 27.9h1.5v1.7h-1.5zM57.7 32.4h1.3v1.7h-1.3zM24.1 17.1h1.5v1.1h-1.5zM22.4 24.5h1.3v1.2h-1.3zM26.3 25.7h0.8v1.6h-0.8zM3.8 30.1h1.3v1.2h-1.3zM13.6 5.7h1.2v1.1h-1.2zM29.5 13.1h1.5v1.3h-1.5zM0.5 23.2h1.8v0.8h-1.8zM36.2 54.8h1.2v1.4h-1.2zM22.5 17.2h1.4v1.4h-1.4zM19.2 28.4h1.3v1.6h-1.3zM3.2 5.3h1.1v1.1h-1.1zM48.5 24.3h1.7v1.2h-1.7zM17.4 38.8h0.9v1.8h-0.9zM50.7 18.7h1.1v1.6h-1.1zM48.1 36.6h0.9v1.6h-0.9zM2.9 35.6h1.4v1.7h-1.4zM39.0 1.3h1.7v1.6h-1.7zM35.4 0.3h1.5v1.2h-1.5zM41.5 56.1h1.7v0.9h-1.7zM47.7 25.1h1.6v1.2h-1.6zM27.3 24.9h0.9v1.1h-0.9zM44.8 4.1h0.9v1.6h-0.9zM40.6 31.2h0.9v0.9h-0.9zM18.9 54.4h1.4v1.7h-1.4zM12.9 23.6h1.3v1.6h-1.3zM7.5 49.8h1.3v0.8h-1.3zM26.3 21.5h1.5v1.7h-1.5zM30.1 39.3h1.2v1.6h-1.2zM6.4 42.3h1.0v1.4h-1.0zM12.3 19.7h1.0v1.1h-1.0zM36.1 29.6h1.2v1.4h-1.2zM51.4 20.4h1.4v1.3h-1.4zM59.8 18.7h1.5v1.0h-1.5zM-1.2 18.7h1.5v1.0h-1.5zM15.9 41.6h1.4v1.1h-1.4zM3.9 47.0h1.2v1.5h-1.2zM26.4 35.2h1.4v1.8h-1.4zM55.5 26.0h1.3v1.0h-1.3zM45.9 5.8h1.1v1.6h-1.1zM2.1 39.8h1.4v1.4h-1.4zM20.3 8.6h1.8v1.6h-1.8zM49.2 5.6h1.6v1.0h-1.6zM12.2 30.5h1.4v0.9h-1.4zM46.7 33.2h1.7v1.7h-1.7zM42.0 20.7h1.8v1.5h-1.8zM17.7 48.9h1.5v1.1h-1.5zM15.2 1.2h1.3v1.1h-1.3zM17.9 14.4h0.9v1.3h-0.9zM16.6 16.2h1.1v1.3h-1.1zM53.3 9.1h1.7v1.7h-1.7zM37.2 31.0h1.5v1.3h-1.5zM40.3 52.4h1.6v1.1h-1.6zM3.3 53.4h1.2v1.6h-1.2zM14.2 25.8h1.2v1.5h-1.2zM57.6 28.8h1.4v1.1h-1.4zM14.2 54.1h0.9v1.7h-0.9zM40.1 4.1h1.7v0.9h-1.7zM34.5 6.8h1.8v1.1h-1.8zM53.2 3.5h1.5v0.9h-1.5zM1.8 32.5h1.8v1.5h-1.8zM52.2 44.7h1.3v0.9h-1.3zM32.1 10.5h1.3v1.2h-1.3zM30.4 11.3h1.5v1.2h-1.5zM29.6 4.5h1.3v1.4h-1.3zM59.3 32.0h0.9v1.1h-0.9zM20.5 40.0h1.7v1.8h-1.7zM57.9 52.7h1.7v1.7h-1.7zM1.2 27.9h1.4v1.5h-1.4zM37.4 34.9h1.7v0.9h-1.7zM31.7 54.7h0.8v0.9h-0.8zM53.0 54.6h0.8v0.8h-0.8zM50.6 39.2h1.3v1.4h-1.3zM46.2 46.0h0.8v0.9h-0.8zM48.4 55.6h1.6v1.2h-1.6zM20.5 19.8h0.8v1.6h-0.8zM16.0 33.4h1.3v1.1h-1.3zM41.2 25.9h1.0v1.7h-1.0zM10.7 8.5h1.1v1.3h-1.1zM47.8 19.0h1.0v1.5h-1.0zM15.9 29.8h1.1v1.7h-1.1zM11.3 13.2h1.1v1.1h-1.1zM44.3 38.4h1.6v1.3h-1.6zM4.8 43.5h1.0v1.0h-1.0zM25.3 56.4h1.2v1.2h-1.2zM25.3 -0.6h1.2v1.2h-1.2zM55.6 56.5h1.2v0.9h-1.2zM55.6 -0.5h1.2v0.9h-1.2zM48.2 44.6h1.1v1.6h-1.1zM23.1 16.4h1.4v1.5h-1.4zM29.0 46.6h0.8v1.3h-0.8zM23.2 3.7h1.7v0.9h-1.7zM12.5 50.1h1.8v1.7h-1.8zM20.9 53.1h0.9v1.5h-0.9zM57.7 11.0h0.9v1.5h-0.9zM53.8 41.4h1.7v1.3h-1.7zM22.7 6.8h1.1v1.7h-1.1zM4.4 10.5h1.1v0.8h-1.1zM18.7 10.4h0.9v1.3h-0.9zM33.0 32.4h1.6v1.3h-1.6zM57.8 4.6h1.0v0.9h-1.0zM18.9 43.4h1.7v1.3h-1.7zM9.8 18.8h1.4v1.1h-1.4zM48.4 55.4h1.3v1.4h-1.3zM51.6 26.5h1.0v1.7h-1.0zM59.7 1.4h1.6v1.2h-1.6zM-1.3 1.4h1.6v1.2h-1.6zM3.2 9.3h1.0v1.5h-1.0zM12.9 1.1h1.0v1.6h-1.0zM30.4 37.2h1.3v1.0h-1.3zM0.9 17.3h0.8v1.1h-0.8zM37.7 21.1h1.3v1.4h-1.3zM19.3 20.3h1.7v1.4h-1.7zM25.4 30.8h1.3v1.1h-1.3zM55.7 13.3h1.7v1.7h-1.7zM53.8 9.3h1.3v1.8h-1.3zM17.6 9.7h1.5v1.0h-1.5zM35.6 9.0h1.7v1.1h-1.7zM5.9 39.2h1.1v1.4h-1.1zM30.3 52.6h1.3v1.2h-1.3zM0.1 28.3h1.1v1.4h-1.1zM38.5 26.3h0.9v1.3h-0.9zM29.4 36.6h1.8v1.1h-1.8zM27.0 4.8h1.6v1.0h-1.6zM50.6 45.5h1.1v1.7h-1.1zM30.7 24.3h1.4v1.7h-1.4zM29.9 27.5h1.1v1.6h-1.1zM30.7 19.5h1.0v1.0h-1.0zM50.9 45.8h1.8v1.7h-1.8zM41.8 45.5h1.5v1.6h-1.5zM48.9 10.0h1.6v1.1h-1.6zM14.9 52.4h0.8v1.3h-0.8zM20.9 45.1h1.4v1.7h-1.4zM56.9 36.7h0.9v1.5h-0.9zM6.7 56.0h1.7v1.1h-1.7zM6.7 -1.0h1.7v1.1h-1.7zM11.3 39.6h1.6v1.8h-1.6zM38.0 7.1h1.5v0.9h-1.5zM52.9 43.8h1.6v1.7h-1.6zM34.7 53.8h1.4v1.3h-1.4zM23.5 20.1h0.8v1.0h-0.8zM48.5 13.0h1.5v1.6h-1.5zM42.4 29.4h1.1v1.1h-1.1zM11.4 36.9h1.5v1.7h-1.5zM20.2 52.8h1.7v1.1h-1.7zM58.1 35.3h1.8v1.6h-1.8zM20.3 15.9h1.3v1.3h-1.3zM2.2 49.2h1.3v1.3h-1.3zM45.4 14.2h1.0v1.4h-1.0zM14.7 18.7h0.9v0.9h-0.9zM21.7 30.0h1.7v1.4h-1.7zM25.3 23.2h1.0v1.3h-1.0zM58.5 7.0h1.2v1.5h-1.2zM46.5 31.6h1.4v1.7h-1.4zM55.1 14.3h1.3v1.8h-1.3zM32.2 10.8h1.6v0.9h-1.6zM9.2 31.4h1.1v1.5h-1.1zM44.3 18.2h1.6v1.4h-1.6zM43.1 26.0h1.2v0.9h-1.2zM29.0 54.4h1.7v0.9h-1.7zM4.3 15.4h1.5v1.2h-1.5zM7.8 24.3h1.4v1.5h-1.4zM24.6 37.0h1.5v1.4h-1.5zM2.8 40.5h0.9v0.9h-0.9zM28.9 1.0h0.9v1.2h-0.9zM28.6 6.0h1.8v1.7h-1.8zM29.7 33.5h1.1v1.8h-1.1zM7.3 17.3h1.0v1.7h-1.0zM31.0 23.4h1.2v1.7h-1.2zM15.7 45.1h1.5v1.2h-1.5zM22.3 24.9h1.3v1.1h-1.3zM38.1 23.4h1.1v1.6h-1.1zM27.8 27.0h1.7v1.3h-1.7zM22.9 51.2h1.8v1.6h-1.8zM24.5 38.3h1.5v1.1h-1.5zM44.2 54.1h1.5v1.5h-1.5zM26.5 37.2h1.0v1.6h-1.0zM32.9 55.9h1.1v1.5h-1.1zM32.9 -1.1h1.1v1.5h-1.1zM1.0 23.7h1.6v1.1h-1.6zM37.4 12.6h1.2v1.8h-1.2zM12.0 52.0h0.9v1.4h-0.9zM50.1 47.7h1.2v1.4h-1.2zM43.4 43.4h1.5v1.4h-1.5zM15.3 40.2h1.4v1.3h-1.4zM60.2 7.8h1.6v1.1h-1.6zM-0.8 7.8h1.6v1.1h-1.6zM44.3 54.2h1.1v1.4h-1.1zM32.2 28.2h1.0v1.4h-1.0zM54.5 37.8h1.1v1.6h-1.1zM25.6 8.3h1.4v1.3h-1.4zM32.3 56.5h1.4v1.8h-1.4zM32.3 -0.5h1.4v1.8h-1.4zM21.5 43.3h0.9v1.1h-0.9zM42.2 39.3h1.6v1.2h-1.6zM16.7 20.4h1.3v0.8h-1.3zM22.8 37.5h0.9v1.1h-0.9zM53.2 53.2h1.0v1.0h-1.0zM7.2 4.9h1.6v1.5h-1.6zM16.1 27.9h1.5v0.8h-1.5zM50.0 49.0h1.0v1.5h-1.0zM42.7 19.2h1.7v1.0h-1.7zM28.9 17.9h1.2v1.6h-1.2zM34.8 34.7h1.8v1.0h-1.8zM13.6 35.3h1.0v1.8h-1.0zM20.8 25.1h1.2v1.6h-1.2zM55.8 38.6h1.0v1.2h-1.0zM43.1 12.3h1.7v1.7h-1.7zM13.8 20.8h1.0v1.5h-1.0zM2.9 39.7h0.9v1.6h-0.9zM33.1 33.2h0.9v0.8h-0.9zM21.5 56.1h1.4v1.7h-1.4zM21.5 -0.9h1.4v1.7h-1.4zM3.8 5.8h0.8v1.5h-0.8zM10.8 15.5h1.5v1.5h-1.5zM19.7 26.6h1.1v1.4h-1.1zM21.7 20.5h1.0v1.1h-1.0zM15.9 0.9h1.1v1.4h-1.1zM16.4 6.4h1.6v1.3h-1.6zM31.2 17.8h1.7v1.6h-1.7zM38.0 37.6h1.5v1.3h-1.5zM25.2 22.2h1.3v1.3h-1.3zM32.3 30.4h1.6v1.7h-1.6zM13.7 1.3h1.1v0.8h-1.1zM48.6 35.4h1.1v1.0h-1.1zM53.0 47.7h1.5v1.5h-1.5zM45.4 25.9h1.2v1.4h-1.2zM53.7 56.5h1.7v1.6h-1.7zM53.7 -0.5h1.7v1.6h-1.7zM4.5 14.1h1.8v1.3h-1.8zM31.4 17.7h1.7v1.3h-1.7zM60.4 4.3h1.8v0.8h-1.8zM-0.6 4.3h1.8v0.8h-1.8zM9.0 22.2h1.4v0.9h-1.4zM34.3 53.5h1.2v1.6h-1.2zM36.1 33.2h1.0v1.3h-1.0zM54.9 38.4h1.0v1.2h-1.0zM33.2 19.2h1.4v1.4h-1.4zM1.1 12.5h1.5v1.0h-1.5zM4.4 43.4h1.1v1.8h-1.1zM34.1 5.8h1.4v1.1h-1.4zM49.7 41.3h1.6v0.9h-1.6zM2.1 45.5h0.9v1.0h-0.9zM1.8 9.3h1.3v1.8h-1.3zM19.6 14.8h1.6v1.0h-1.6zM38.7 35.1h1.7v0.8h-1.7zM34.4 21.8h1.6v1.1h-1.6zM43.6 10.6h1.3v1.8h-1.3zM14.6 15.9h1.7v1.5h-1.7zM4.0 10.6h1.0v1.1h-1.0zM51.5 39.9h1.8v1.5h-1.8zM38.3 21.8h1.5v1.3h-1.5zM3.6 28.0h1.2v1.3h-1.2zM3.0 1.6h1.8v1.2h-1.8zM20.1 8.5h1.4v1.7h-1.4zM11.0 28.5h1.3v1.6h-1.3zM34.5 13.6h1.0v1.5h-1.0zM4.8 49.3h0.8v1.0h-0.8zM28.5 48.1h1.4v1.5h-1.4zM46.4 41.2h0.9v1.6h-0.9zM9.0 9.3h0.8v0.8h-0.8zM53.5 21.7h0.9v0.8h-0.9zM51.6 34.3h1.7v0.8h-1.7zM6.9 16.3h1.0v0.9h-1.0zM12.2 36.5h1.0v1.0h-1.0zM32.7 21.4h0.9v1.4h-0.9zM31.0 22.1h1.3v0.8h-1.3zM37.5 11.0h1.1v0.8h-1.1zM54.2 33.5h1.2v1.3h-1.2zM57.3 7.5h1.2v1.5h-1.2zM22.7 40.3h1.7v0.8h-1.7zM17.4 16.7h1.6v1.6h-1.6zM42.7 52.7h1.0v1.2h-1.0zM52.0 43.6h0.9v1.8h-0.9zM45.2 49.4h1.2v1.4h-1.2zM58.5 51.2h1.4v1.7h-1.4zM60.9 47.8h1.5v1.8h-1.5zM-0.1 47.8h1.5v1.8h-1.5zM8.8 23.0h1.4v0.9h-1.4zM47.6 3.5h1.4v1.1h-1.4zM19.7 34.6h1.0v1.2h-1.0zM52.3 56.3h1.1v1.2h-1.1zM52.3 -0.7h1.1v1.2h-1.1zM42.3 10.8h1.6v1.0h-1.6zM34.0 19.3h0.8v0.8h-0.8zM0.1 18.7h1.1v1.8h-1.1zM38.9 3.7h1.5v1.0h-1.5zM29.4 41.2h1.7v1.7h-1.7zM25.7 18.1h1.2v1.1h-1.2zM45.2 26.4h1.5v1.0h-1.5zM47.8 55.1h1.0v1.4h-1.0zM9.9 2.0h1.2v1.0h-1.2zM44.6 32.6h1.5v1.8h-1.5zM3.6 5.6h0.8v1.3h-0.8zM50.3 39.0h1.3v1.7h-1.3zM22.7 6.4h1.4v0.8h-1.4zM14.0 1.7h1.0v0.9h-1.0zM32.4 7.3h1.4v1.6h-1.4zM21.0 6.9h1.5v1.5h-1.5zM53.9 31.6h1.4v1.7h-1.4zM41.3 55.6h1.1v1.6h-1.1zM41.3 -1.4h1.1v1.6h-1.1zM38.6 26.7h0.8v1.3h-0.8zM16.1 34.3h1.3v1.3h-1.3zM3.6 7.5h1.4v1.5h-1.4zM60.4 45.2h1.1v1.3h-1.1zM-0.6 45.2h1.1v1.3h-1.1zM30.8 45.8h1.2v1.7h-1.2zM29.5 22.7h1.3v1.2h-1.3zM61.0 2.6h1.2v0.9h-1.2zM-0.0 2.6h1.2v0.9h-1.2zM41.4 8.6h0.9v1.2h-0.9zM36.7 43.5h1.2v1.1h-1.2zM22.4 50.6h1.0v0.8h-1.0zM54.0 27.5h0.9v0.9h-0.9zM54.3 42.7h0.9v1.5h-0.9zM13.0 25.4h1.4v0.9h-1.4zM57.1 19.1h0.9v1.6h-0.9zM6.7 2.1h1.5v1.3h-1.5zM54.9 45.1h1.0v0.8h-1.0zM36.8 26.8h1.1v1.7h-1.1zM12.7 36.7h0.9v1.7h-0.9zM57.9 35.2h1.1v1.5h-1.1zM55.1 45.3h0.8v1.3h-0.8zM8.5 31.1h1.8v1.7h-1.8zM15.2 31.5h1.1v1.0h-1.1zM45.4 43.3h1.1v1.2h-1.1zM42.5 41.5h1.3v0.9h-1.3zM5.8 9.7h1.6v1.3h-1.6zM39.3 20.8h1.2v1.0h-1.2zM59.5 34.5h0.9v1.5h-0.9zM36.5 35.0h1.6v1.4h-1.6zM53.5 55.3h1.2v1.4h-1.2zM22.8 23.4h1.2v1.4h-1.2zM21.5 20.1h1.6v1.6h-1.6zM41.2 48.1h1.2v1.4h-1.2zM15.3 18.0h0.9v1.6h-0.9zM56.2 17.3h1.2v0.9h-1.2zM8.7 36.4h1.7v0.9h-1.7zM15.5 43.3h1.0v1.7h-1.0zM21.5 27.0h1.0v1.1h-1.0zM25.9 15.9h1.5v0.8h-1.5zM39.0 45.7h1.1v1.0h-1.1zM7.3 4.4h1.6v1.4h-1.6zM0.9 25.8h1.4v1.1h-1.4zM2.1 24.0h1.2v1.8h-1.2zM21.9 52.6h1.7v1.4h-1.7zM7.7 46.0h0.9v1.4h-0.9zM5.9 5.3h1.2v1.0h-1.2zM60.5 32.9h1.7v1.8h-1.7zM-0.5 32.9h1.7v1.8h-1.7zM46.2 36.8h1.3v1.6h-1.3zM40.8 9.0h1.3v1.2h-1.3zM31.4 40.6h1.5v1.4h-1.5zM48.1 47.0h0.9v0.9h-0.9zM2.9 9.1h1.8v1.1h-1.8zM26.8 26.5h1.4v1.1h-1.4zM47.5 18.9h1.6v1.6h-1.6zM0.1 31.2h0.9v1.7h-0.9zM4.2 15.2h1.6v1.4h-1.6zM40.7 23.5h1.3v1.0h-1.3zM28.2 14.7h1.5v0.9h-1.5zM8.4 11.3h1.3v1.4h-1.3zM0.2 56.3h1.6v1.2h-1.6zM0.2 -0.7h1.6v1.2h-1.6zM9.7 47.1h1.8v1.0h-1.8zM46.1 46.6h1.7v1.0h-1.7zM7.3 9.4h1.0v1.7h-1.0zM55.5 27.0h0.9v1.2h-0.9zM14.7 37.0h1.5v1.6h-1.5zM26.7 26.0h1.3v1.2h-1.3zM27.8 39.1h1.5v1.1h-1.5zM34.6 8.3h0.8v1.2h-0.8zM21.9 1.9h0.9v1.2h-0.9zM57.5 47.7h0.8v1.1h-0.8zM22.5 17.7h0.9v1.4h-0.9zM51.2 21.8h1.0v0.9h-1.0zM0.9 43.6h1.0v1.5h-1.0zM48.2 4.8h1.0v1.1h-1.0zM46.9 42.0h1.1v1.3h-1.1zM21.7 26.9h1.6v1.1h-1.6zM49.4 52.4h1.4v1.8h-1.4zM57.2 9.8h1.8v1.0h-1.8zM49.1 6.9h1.1v1.2h-1.1zM51.2 38.8h1.0v1.7h-1.0zM52.8 29.1h0.9v1.1h-0.9zM17.8 23.9h1.7v1.4h-1.7zM50.0 4.1h1.0v1.5h-1.0zM20.8 13.0h0.9v0.9h-0.9zM25.2 31.1h1.2v1.4h-1.2zM17.7 1.0h1.5v1.1h-1.5zM30.0 21.5h1.1v0.9h-1.1zM18.1 17.0h0.9v0.8h-0.9zM29.3 1.1h1.7v1.2h-1.7zM27.1 30.0h0.8v0.9h-0.8zM47.9 31.7h1.3v1.1h-1.3zM45.8 28.7h1.6v1.6h-1.6zM54.5 41.4h1.5v1.3h-1.5zM32.5 33.0h1.3v1.6h-1.3zM52.3 3.0h1.6v1.4h-1.6zM36.5 51.8h0.8v1.3h-0.8zM22.9 54.1h1.0v1.4h-1.0zM8.8 43.0h1.3v1.5h-1.3zM18.7 50.4h0.8v1.0h-0.8zM44.7 50.1h1.6v1.1h-1.6zM4.9 40.4h1.5v0.9h-1.5zM57.0 30.1h0.8v1.3h-0.8zM20.6 5.9h1.7v1.7h-1.7zM7.6 25.4h1.1v1.5h-1.1zM6.7 19.0h1.2v1.3h-1.2zM26.5 34.0h1.7v1.7h-1.7zM55.3 47.2h1.0v1.0h-1.0zM28.0 36.7h1.4v1.1h-1.4zM60.5 17.8h0.8v0.9h-0.8zM-0.5 17.8h0.8v0.9h-0.8zM12.8 41.7h1.6v0.8h-1.6zM14.5 13.8h1.6v1.7h-1.6zM16.1 5.8h1.8v1.8h-1.8zM43.7 26.9h1.5v1.6h-1.5zM31.1 15.5h1.3v1.5h-1.3zM19.8 36.4h0.9v1.8h-0.9zM12.9 12.9h1.8v1.8h-1.8zM56.4 47.9h1.6v1.6h-1.6zM34.6 4.2h1.5v1.6h-1.5zM51.1 2.5h0.9v1.5h-0.9zM29.8 50.9h1.8v1.2h-1.8zM41.2 37.9h1.5v1.2h-1.5zM39.0 3.9h1.7v1.5h-1.7zM49.0 26.3h1.0v1.3h-1.0zM41.5 31.2h0.9v0.8h-0.9zM24.3 14.0h1.0v1.0h-1.0zM25.4 39.6h1.7v1.5h-1.7zM1.3 49.5h1.4v1.5h-1.4zM37.4 20.2h1.1v0.9h-1.1zM40.5 3.1h1.5v1.7h-1.5zM40.7 34.6h1.6v1.8h-1.6zM49.6 56.4h1.3v0.8h-1.3zM49.6 -0.6h1.3v0.8h-1.3zM37.5 36.4h1.7v1.4h-1.7zM22.2 0.3h1.6v1.4h-1.6zM60.1 33.8h1.7v1.6h-1.7zM-0.9 33.8h1.7v1.6h-1.7zM60.4 26.4h1.7v1.2h-1.7zM-0.6 26.4h1.7v1.2h-1.7zM0.7 18.6h1.2v1.8h-1.2zM24.1 15.7h1.5v0.9h-1.5zM18.6 22.5h0.9v1.4h-0.9zM25.8 45.7h1.1v1.8h-1.1zM11.9 30.3h1.0v0.8h-1.0zM18.4 51.0h1.1v1.3h-1.1zM32.0 15.2h1.3v0.9h-1.3zM21.3 16.2h1.6v1.6h-1.6zM42.7 33.9h1.7v1.5h-1.7zM3.4 7.4h1.5v1.6h-1.5zM60.3 44.2h1.0v1.4h-1.0zM-0.7 44.2h1.0v1.4h-1.0zM38.1 34.5h0.9v1.8h-0.9zM31.1 15.3h1.8v1.2h-1.8zM4.3 38.1h1.1v1.0h-1.1zM18.5 34.6h1.1v1.5h-1.1zM55.2 56.5h1.7v1.7h-1.7zM55.2 -0.5h1.7v1.7h-1.7zM15.4 47.0h0.9v1.4h-0.9zM4.6 5.7h1.7v0.9h-1.7zM43.7 30.0h0.8v1.6h-0.8zM3.7 50.5h1.6v1.3h-1.6zM27.2 1.6h1.5v0.8h-1.5zM32.1 52.7h1.5v0.9h-1.5zM44.0 40.0h1.1v1.6h-1.1zM35.3 23.6h1.3v1.1h-1.3zM17.5 50.7h1.1v1.6h-1.1zM22.4 10.8h0.8v1.8h-0.8zM45.8 56.0h1.4v0.9h-1.4zM10.0 2.8h1.4v1.4h-1.4zM58.3 16.9h1.0v1.0h-1.0zM9.0 1.6h1.3v1.2h-1.3zM22.5 54.2h1.1v1.6h-1.1zM32.5 5.9h0.8v1.4h-0.8zM53.3 2.9h1.5v1.0h-1.5zM41.9 47.5h1.5v1.0h-1.5zM9.5 55.1h1.7v1.7h-1.7zM33.0 2.9h1.2v1.7h-1.2zM4.1 16.8h0.8v1.7h-0.8zM21.6 4.7h1.2v1.0h-1.2zM26.4 35.1h1.5v0.9h-1.5zM32.6 3.2h1.2v1.6h-1.2zM16.0 46.9h1.0v1.2h-1.0zM48.3 0.2h1.4v1.3h-1.4zM43.6 54.0h1.5v1.0h-1.5zM12.1 27.5h1.1v1.4h-1.1zM5.5 39.6h1.2v0.8h-1.2zM7.4 53.3h1.6v1.7h-1.6zM23.8 56.1h1.0v1.5h-1.0zM23.8 -0.9h1.0v1.5h-1.0zM57.5 11.9h0.8v0.9h-0.8zM5.1 45.8h1.4v1.3h-1.4zM7.0 36.6h0.9v0.9h-0.9zM36.2 36.7h1.6v1.6h-1.6zM8.4 17.3h0.9v1.3h-0.9zM1.7 49.5h1.5v1.6h-1.5zM29.8 52.0h1.6v1.6h-1.6zM49.2 12.3h1.1v0.9h-1.1zM46.6 27.0h1.8v1.1h-1.8zM26.3 49.4h1.8v1.6h-1.8zM53.8 52.6h1.1v1.4h-1.1zM3.9 38.6h1.8v1.3h-1.8zM8.9 32.4h0.9v1.3h-0.9zM4.9 23.8h1.6v1.5h-1.6zM52.1 26.1h1.2v0.9h-1.2zM48.1 32.5h1.2v0.9h-1.2zM28.0 3.6h0.9v0.9h-0.9zM25.9 7.8h1.6v1.4h-1.6zM52.9 31.5h1.0v1.1h-1.0zM51.2 33.3h1.4v1.4h-1.4zM2.9 11.4h1.2v1.6h-1.2zM57.6 33.7h1.1v0.8h-1.1zM34.1 23.3h1.7v1.0h-1.7zM12.5 0.9h0.8v1.6h-0.8zM53.1 8.8h0.8v1.4h-0.8zM15.0 35.0h1.7v1.5h-1.7zM17.1 34.6h1.1v1.6h-1.1zM15.7 49.6h1.5v1.7h-1.5zM21.1 54.4h1.4v1.1h-1.4zM39.5 17.7h0.9v0.8h-0.9zM37.2 13.8h0.9v1.6h-0.9zM8.7 43.0h1.1v1.2h-1.1zM56.9 47.2h1.6v1.8h-1.6zM36.8 53.3h1.4v1.4h-1.4zM19.8 21.6h1.4v1.0h-1.4zM39.2 49.2h1.5v1.0h-1.5zM1.7 20.9h1.2v1.6h-1.2zM33.4 29.5h1.4v1.4h-1.4zM41.4 31.8h1.4v1.0h-1.4zM7.5 25.1h1.7v1.7h-1.7zM17.9 32.8h1.3v1.3h-1.3zM10.9 45.0h0.9v1.0h-0.9zM17.0 11.6h1.0v0.9h-1.0zM31.9 9.8h1.4v1.4h-1.4zM38.1 27.4h1.4v1.1h-1.4zM28.3 39.2h1.0v1.5h-1.0zM35.7 55.6h1.4v1.3h-1.4zM46.9 16.4h1.2v1.2h-1.2zM44.8 41.0h1.0v1.8h-1.0zM59.9 28.2h1.8v1.4h-1.8zM-1.1 28.2h1.8v1.4h-1.8zM23.5 5.0h0.8v1.4h-0.8zM43.8 35.1h1.6v1.2h-1.6zM45.3 34.4h1.4v1.3h-1.4zM40.7 31.9h0.9v1.5h-0.9zM42.9 24.4h1.8v1.3h-1.8zM10.1 29.1h1.2v1.0h-1.2zM54.2 10.1h1.5v1.0h-1.5zM31.5 56.8h0.9v1.7h-0.9zM31.5 -0.2h0.9v1.7h-0.9zM0.4 55.7h1.7v1.2h-1.7zM38.9 26.2h1.0v1.2h-1.0zM26.9 49.6h0.9v1.3h-0.9zM28.8 31.5h1.6v1.4h-1.6zM19.7 54.4h1.4v1.1h-1.4zM33.4 49.4h0.8v1.4h-0.8zM29.7 16.4h1.0v1.0h-1.0zM26.7 24.1h1.4v1.1h-1.4zM37.8 27.0h1.6v1.6h-1.6zM14.5 55.7h1.3v1.1h-1.3zM15.5 40.6h1.2v1.5h-1.2zM15.6 49.0h1.1v1.7h-1.1zM26.7 22.9h1.4v1.3h-1.4zM33.4 32.0h1.7v1.5h-1.7zM5.6 56.3h0.8v0.9h-0.8zM5.6 -0.7h0.8v0.9h-0.8zM49.9 15.7h0.8v1.0h-0.8zM30.2 48.1h0.8v1.0h-0.8zM0.8 3.0h1.1v1.3h-1.1zM59.1 36.9h1.7v1.4h-1.7zM55.5 38.4h1.0v1.2h-1.0zM29.3 6.3h1.7v1.3h-1.7zM12.2 28.0h1.6v1.1h-1.6zM35.8 5.2h1.0v1.0h-1.0zM30.8 39.2h1.0v1.5h-1.0zM35.7 42.8h1.8v1.1h-1.8zM60.8 25.9h1.3v1.0h-1.3zM-0.2 25.9h1.3v1.0h-1.3zM5.2 36.8h0.9v0.8h-0.9zM5.1 30.9h1.0v1.1h-1.0zM46.8 25.4h0.9v1.5h-0.9zM60.7 35.5h1.2v1.3h-1.2zM-0.3 35.5h1.2v1.3h-1.2zM42.9 47.8h1.6v1.0h-1.6zM47.6 5.9h0.9v1.3h-0.9zM11.3 32.0h1.1v1.7h-1.1zM26.4 46.5h1.7v1.3h-1.7zM46.9 28.1h1.2v0.9h-1.2zM40.2 52.5h1.5v1.1h-1.5zM32.0 20.3h1.2v1.6h-1.2zM0.4 27.4h1.3v0.9h-1.3zM44.7 14.5h1.2v1.0h-1.2zM36.4 24.6h1.5v1.2h-1.5zM47.8 31.4h0.9v1.3h-0.9zM15.4 17.0h1.7v1.3h-1.7zM45.1 8.9h1.4v0.9h-1.4zM13.5 7.3h0.8v1.7h-0.8zM58.8 21.0h0.8v1.5h-0.8zM40.4 2.6h1.6v0.9h-1.6zM14.2 44.4h1.6v1.0h-1.6zM31.0 45.6h1.4v1.3h-1.4zM11.3 3.9h1.0v1.3h-1.0zM36.4 26.2h1.4v1.4h-1.4zM39.4 23.4h1.6v1.3h-1.6zM53.7 56.2h1.6v1.6h-1.6zM53.7 -0.8h1.6v1.6h-1.6zM42.1 31.5h1.0v0.9h-1.0zM40.3 14.1h1.4v1.3h-1.4zM37.0 24.5h1.0v1.1h-1.0zM42.5 50.5h1.1v1.1h-1.1zM27.3 24.5h1.4v1.6h-1.4zM46.8 46.1h1.5v1.8h-1.5zM27.4 25.5h1.5v1.1h-1.5zM50.6 23.8h1.4v1.3h-1.4zM22.2 0.6h1.1v1.3h-1.1zM58.0 7.8h1.7v1.8h-1.7zM48.3 15.9h0.8v1.7h-0.8zM4.2 17.0h1.7v1.5h-1.7zM50.2 47.5h1.0v1.3h-1.0zM5.8 21.6h1.3v1.6h-1.3zM17.6 38.0h0.9v1.1h-0.9zM3.6 33.1h1.4v1.5h-1.4zM25.6 53.4h1.5v1.4h-1.5zM53.3 10.2h1.1v1.4h-1.1zM36.6 54.5h1.5v0.8h-1.5zM57.6 26.6h1.0v1.6h-1.0zM38.3 48.7h1.4v1.1h-1.4zM28.7 26.6h1.2v1.4h-1.2zM9.1 14.4h0.9v0.8h-0.9zM32.0 42.0h1.2v1.7h-1.2zM37.1 37.5h1.1v1.7h-1.1zM21.2 48.2h1.0v1.8h-1.0zM41.7 10.2h1.5v1.0h-1.5zM23.5 21.6h1.1v1.2h-1.1zM9.8 22.8h0.9v1.6h-0.9zM21.6 40.6h1.2v1.8h-1.2zM53.7 40.2h1.6v1.7h-1.6zM56.8 23.5h1.4v0.9h-1.4zM22.2 18.7h1.4v0.8h-1.4zM46.0 4.2h1.2v1.3h-1.2zM51.4 36.0h0.9v1.5h-0.9zM14.3 35.2h1.2v1.8h-1.2zM27.4 15.5h1.1v1.8h-1.1zM21.3 13.8h1.3v1.5h-1.3zM57.4 4.5h1.1v1.5h-1.1zM30.2 39.4h1.5v0.9h-1.5zM3.1 10.1h1.1v1.0h-1.1zM17.5 6.5h0.8v1.3h-0.8zM46.2 9.1h0.9v1.5h-0.9zM4.8 8.0h1.3v1.1h-1.3zM47.9 28.9h1.3v1.2h-1.3zM1.7 46.8h1.2v1.6h-1.2zM6.5 24.6h1.3v1.0h-1.3zM4.5 53.3h1.7v1.8h-1.7zM33.2 41.8h1.4v1.3h-1.4zM10.5 36.6h1.2v1.5h-1.2zM2.6 16.8h0.9v1.6h-0.9zM29.2 16.3h1.6v1.3h-1.6zM17.7 22.4h0.8v0.9h-0.8zM2.2 54.8h1.7v1.3h-1.7zM57.4 30.7h1.5v0.9h-1.5zM26.6 34.8h1.2v1.5h-1.2zM20.9 37.3h1.0v1.3h-1.0zM26.1 30.0h0.9v1.0h-0.9zM43.7 9.5h1.3v1.8h-1.3zM37.2 41.8h1.6v1.8h-1.6zM23.6 22.6h1.6v0.8h-1.6zM28.6 15.5h1.4v1.5h-1.4zM52.5 28.9h1.5v0.9h-1.5zM40.2 53.0h1.4v1.3h-1.4zM31.2 23.5h1.0v1.0h-1.0zM48.5 29.4h0.8v1.4h-0.8zM50.7 37.1h1.0v1.8h-1.0zM11.1 29.0h1.3v1.0h-1.3zM16.3 10.6h1.0v0.8h-1.0zM39.4 38.0h1.1v1.8h-1.1zM25.8 26.0h1.7v1.4h-1.7zM28.4 42.6h1.5v1.1h-1.5zM4.3 41.7h1.5v1.4h-1.5zM7.1 42.4h1.0v1.6h-1.0zM37.9 36.3h0.9v1.2h-0.9zM44.7 6.3h0.8v1.2h-0.8zM52.0 35.9h1.0v0.9h-1.0zM51.1 48.0h1.5v1.0h-1.5zM45.8 0.6h1.0v1.1h-1.0zM58.4 2.0h1.0v1.5h-1.0zM46.5 15.3h0.9v1.7h-0.9zM59.2 51.8h1.4v0.9h-1.4zM45.1 37.0h1.6v1.6h-1.6zM30.7 55.7h1.3v1.2h-1.3zM38.9 44.9h1.4v1.7h-1.4zM16.6 51.1h1.7v1.1h-1.7zM1.7 34.3h1.4v1.8h-1.4zM34.0 41.3h1.6v1.0h-1.6zM40.7 25.0h1.0v1.1h-1.0zM22.1 41.9h1.4v1.1h-1.4zM3.4 44.9h1.6v1.6h-1.6zM48.0 3.6h1.1v1.3h-1.1zM18.1 47.0h1.0v0.8h-1.0zM27.5 2.9h0.8v1.4h-0.8zM36.9 30.9h0.9v1.4h-0.9zM31.9 17.4h1.0v1.0h-1.0zM29.5 20.9h1.4v1.5h-1.4zM16.8 34.6h1.1v1.5h-1.1zM12.4 33.9h1.5v1.6h-1.5zM32.4 52.0h1.8v1.6h-1.8zM21.9 15.2h1.4v0.9h-1.4zM10.8 5.4h1.5v1.2h-1.5zM56.2 46.0h1.3v1.1h-1.3zM19.5 3.0h0.9v1.7h-0.9zM18.2 0.5h1.8v1.2h-1.8zM47.3 25.8h1.8v0.9h-1.8zM28.9 36.9h0.8v1.7h-0.8zM20.6 38.6h0.9v0.9h-0.9zM5.3 45.0h1.7v1.7h-1.7zM32.4 5.2h1.6v1.3h-1.6zM47.7 36.2h1.4v1.0h-1.4zM8.7 4.7h1.2v1.1h-1.2zM58.2 2.8h1.6v0.9h-1.6zM6.3 52.6h1.0v1.4h-1.0zM35.7 22.8h1.1v0.9h-1.1zM42.4 21.2h1.4v1.6h-1.4zM4.6 24.1h1.2v1.7h-1.2zM37.9 11.2h1.3v0.8h-1.3zM31.4 4.0h0.9v1.3h-0.9zM32.8 12.1h1.4v1.1h-1.4zM42.9 3.0h1.6v1.2h-1.6zM10.5 16.6h1.4v0.9h-1.4zM55.7 12.6h1.2v0.9h-1.2zM27.8 54.8h1.0v1.0h-1.0zM33.4 36.5h0.9v1.0h-0.9zM36.9 13.6h0.8v1.5h-0.8zM53.0 46.0h1.7v1.0h-1.7zM18.9 34.2h1.4v1.4h-1.4zM33.7 13.3h1.0v0.9h-1.0zM3.5 33.1h0.9v1.7h-0.9zM58.5 8.3h1.8v1.4h-1.8zM0.3 21.8h1.2v1.1h-1.2zM4.1 13.9h0.8v1.2h-0.8zM29.4 13.2h1.7v1.7h-1.7zM30.5 45.7h1.2v1.6h-1.2zM47.4 20.1h1.5v1.2h-1.5zM10.6 23.9h0.9v1.5h-0.9zM15.4 28.4h1.6v1.4h-1.6zM55.4 41.4h1.5v1.5h-1.5zM42.1 52.4h1.4v1.5h-1.4zM33.5 30.4h1.7v1.1h-1.7zM11.6 28.6h1.1v1.5h-1.1zM38.8 0.1h1.0v1.4h-1.0zM24.2 38.8h1.3v0.9h-1.3zM42.1 55.5h0.9v1.4h-0.9zM37.4 34.9h1.3v1.3h-1.3zM60.3 49.7h1.2v1.6h-1.2zM-0.7 49.7h1.2v1.6h-1.2zM40.7 45.9h1.8v0.9h-1.8zM12.9 13.2h1.6v1.7h-1.6zM13.8 27.7h1.7v1.5h-1.7zM35.8 50.9h1.7v0.9h-1.7zM58.9 16.6h1.4v1.6h-1.4zM17.9 17.5h1.7v1.6h-1.7zM59.6 5.3h1.4v1.5h-1.4zM58.3 41.4h1.1v0.9h-1.1zM10.6 14.8h1.4v1.1h-1.4zM9.1 4.9h1.5v1.6h-1.5zM7.5 29.3h1.8v1.2h-1.8zM32.6 46.2h0.8v1.7h-0.8zM47.2 42.0h1.1v1.3h-1.1zM57.4 3.5h0.9v1.4h-0.9zM58.1 8.5h1.0v1.3h-1.0zM48.1 32.1h1.5v0.9h-1.5zM12.2 33.4h1.5v0.9h-1.5zM5.5 17.9h1.2v1.1h-1.2zM10.4 4.2h1.4v1.8h-1.4zM38.7 52.4h0.9v1.4h-0.9zM22.3 48.3h1.4v1.4h-1.4zM55.8 54.5h0.9v1.2h-0.9zM5.2 31.9h1.0v1.5h-1.0zM21.7 0.4h1.7v0.9h-1.7zM16.4 29.6h0.9v1.6h-0.9zM43.7 6.7h1.4v0.9h-1.4zM32.4 5.3h1.1v1.3h-1.1zM33.2 37.3h1.7v1.1h-1.7zM21.4 11.9h1.5v1.2h-1.5zM12.9 11.0h1.2v1.6h-1.2zM26.7 46.4h1.3v1.4h-1.3zM15.6 23.3h1.5v0.9h-1.5zM27.7 14.4h1.1v1.1h-1.1zM12.1 32.9h0.8v1.0h-0.8zM16.1 10.3h1.6v1.5h-1.6zM54.2 7.6h1.0v1.1h-1.0zM31.0 47.5h1.6v1.7h-1.6zM1.1 1.6h1.1v1.2h-1.1zM0.4 20.0h0.9v1.7h-0.9zM12.8 18.2h1.0v1.6h-1.0zM6.9 25.1h1.0v1.0h-1.0zM60.7 40.7h1.5v1.2h-1.5zM-0.3 40.7h1.5v1.2h-1.5zM59.6 55.0h1.4v1.0h-1.4zM-1.4 55.0h1.4v1.0h-1.4zM3.0 31.0h1.3v1.7h-1.3zM60.9 46.6h1.0v1.8h-1.0zM-0.1 46.6h1.0v1.8h-1.0zM37.4 2.2h1.0v1.8h-1.0zM48.5 42.2h1.5v0.8h-1.5zM57.1 17.0h1.6v1.3h-1.6zM29.8 30.0h1.7v1.6h-1.7zM24.1 48.6h1.0v1.1h-1.0zM19.6 2.7h1.2v0.8h-1.2zM59.1 46.6h1.3v0.9h-1.3z" fill="#73dad2" fill-opacity="0.5"/></pattern>
<pattern id="py" patternUnits="userSpaceOnUse" width="61" height="57"><path d="M56.4 54.1h1.7v1.0h-1.7zM36.1 24.2h1.4v1.0h-1.4zM11.7 25.3h1.1v1.3h-1.1zM1.5 4.9h1.5v1.3h-1.5zM31.3 41.8h1.2v1.0h-1.2zM47.8 33.6h1.5v1.5h-1.5zM59.2 20.7h1.6v1.2h-1.6zM34.9 37.7h1.2v1.0h-1.2zM28.9 40.9h1.4v1.3h-1.4zM39.2 10.4h1.1v1.2h-1.1zM49.8 11.1h1.0v1.0h-1.0zM2.4 15.7h1.4v1.6h-1.4zM20.2 21.1h1.2v1.2h-1.2zM47.4 31.3h1.1v1.0h-1.1zM47.8 40.3h1.6v1.1h-1.6zM33.3 52.4h1.4v1.8h-1.4zM10.2 55.6h1.0v1.3h-1.0zM1.4 46.1h1.5v1.8h-1.5zM49.1 54.1h1.4v1.8h-1.4zM45.7 19.7h1.8v1.2h-1.8zM11.8 4.3h1.3v1.1h-1.3zM56.9 54.2h1.1v1.0h-1.1zM32.3 9.7h1.4v1.6h-1.4zM15.4 24.0h1.7v1.3h-1.7zM20.9 50.9h1.6v1.7h-1.6zM42.0 23.5h1.5v1.6h-1.5zM39.0 13.6h1.2v1.3h-1.2zM47.1 31.8h1.4v1.6h-1.4zM6.6 36.0h1.2v1.4h-1.2zM51.0 14.2h1.8v1.0h-1.8zM34.3 30.9h1.1v1.4h-1.1zM28.7 25.6h1.5v0.9h-1.5zM23.0 44.8h1.0v1.7h-1.0zM12.4 38.8h1.1v1.3h-1.1zM25.8 4.7h1.5v1.3h-1.5zM42.0 30.7h1.4v1.4h-1.4zM18.2 51.2h1.0v1.7h-1.0zM52.7 28.4h1.6v1.5h-1.6zM36.9 16.6h1.2v1.2h-1.2zM18.4 54.7h1.2v1.2h-1.2zM25.6 46.5h1.3v1.4h-1.3zM15.6 15.8h1.0v1.1h-1.0zM16.1 48.6h1.4v1.0h-1.4zM28.2 6.9h1.4v1.3h-1.4zM52.4 14.8h1.7v1.1h-1.7zM59.9 36.1h0.9v1.6h-0.9zM16.8 20.6h1.0v1.7h-1.0zM5.5 42.1h1.3v1.5h-1.3zM17.9 4.5h1.7v1.5h-1.7zM10.4 55.6h1.7v1.1h-1.7zM1.2 34.8h1.0v1.6h-1.0zM28.6 40.4h1.4v1.6h-1.4zM50.1 34.4h1.4v1.2h-1.4zM8.2 5.3h1.7v1.1h-1.7zM26.0 18.1h1.5v1.4h-1.5zM52.4 24.9h1.2v1.5h-1.2zM45.4 52.8h1.2v1.7h-1.2zM59.9 56.0h1.0v1.2h-1.0zM59.9 -1.0h1.0v1.2h-1.0zM47.2 47.4h0.9v1.3h-0.9zM44.2 43.2h1.4v1.1h-1.4zM24.8 3.3h1.2v1.3h-1.2zM50.2 33.6h1.3v1.1h-1.3zM19.2 38.2h1.3v1.1h-1.3zM50.1 32.8h1.8v1.4h-1.8zM38.0 24.4h1.4v1.7h-1.4zM59.9 37.7h1.3v1.0h-1.3zM-1.1 37.7h1.3v1.0h-1.3zM51.3 22.3h1.2v1.0h-1.2zM2.1 22.3h1.8v1.6h-1.8zM43.2 38.1h1.1v1.1h-1.1zM36.7 3.6h1.4v1.4h-1.4zM33.1 6.9h1.0v1.3h-1.0zM8.9 36.6h1.2v1.5h-1.2zM45.8 34.6h1.4v1.1h-1.4zM21.2 55.7h1.1v1.2h-1.1zM30.1 31.1h1.6v1.2h-1.6zM58.7 1.3h1.6v1.4h-1.6zM55.0 8.7h1.5v1.8h-1.5zM40.7 6.4h1.7v1.8h-1.7zM6.8 47.2h1.0v1.0h-1.0zM48.5 41.0h1.8v1.5h-1.8zM31.2 15.5h1.4v1.8h-1.4zM39.4 49.9h1.1v1.6h-1.1zM44.6 4.0h1.6v1.1h-1.6zM13.3 3.5h1.5v1.0h-1.5zM59.5 0.0h1.6v1.6h-1.6zM-1.5 0.0h1.6v1.6h-1.6zM34.7 32.6h1.6v1.5h-1.6zM8.5 45.4h1.2v1.4h-1.2zM31.3 51.5h1.3v1.7h-1.3zM5.0 18.6h1.5v1.5h-1.5zM50.8 11.9h1.6v1.6h-1.6zM8.7 8.0h1.4v1.8h-1.4zM37.4 24.4h1.4v1.6h-1.4zM31.9 30.6h1.4v1.7h-1.4zM48.8 47.8h1.1v1.4h-1.1zM50.2 40.9h1.8v1.7h-1.8zM7.8 29.0h1.2v1.1h-1.2zM30.5 56.1h1.6v1.0h-1.6zM30.5 -0.9h1.6v1.0h-1.6zM15.1 21.1h1.7v1.3h-1.7zM9.7 31.4h1.1v0.9h-1.1zM36.2 56.5h1.6v1.6h-1.6zM36.2 -0.5h1.6v1.6h-1.6zM9.3 32.0h1.5v1.6h-1.5zM27.2 3.0h1.7v1.1h-1.7zM45.0 26.5h1.6v1.2h-1.6zM5.6 24.4h1.3v1.6h-1.3zM24.6 38.0h1.2v1.6h-1.2zM10.6 50.2h1.7v0.9h-1.7zM52.4 44.3h1.5v1.0h-1.5zM44.7 44.0h1.5v1.8h-1.5zM57.8 36.1h1.7v1.0h-1.7zM18.2 30.2h1.4v1.8h-1.4zM38.8 35.4h1.5v1.8h-1.5zM24.4 42.1h1.4v1.3h-1.4zM20.7 8.8h0.9v1.2h-0.9zM18.3 4.6h1.3v1.2h-1.3zM56.5 44.5h1.5v1.7h-1.5zM16.8 6.6h1.4v1.1h-1.4zM60.1 24.2h1.7v1.1h-1.7zM-0.9 24.2h1.7v1.1h-1.7zM5.7 35.7h1.5v1.1h-1.5zM56.5 55.5h1.5v1.8h-1.5zM56.5 -1.5h1.5v1.8h-1.5zM60.0 8.4h1.6v1.6h-1.6zM-1.0 8.4h1.6v1.6h-1.6zM44.6 19.4h1.4v1.4h-1.4zM51.8 2.9h1.2v1.2h-1.2zM48.3 6.6h1.0v1.0h-1.0zM7.1 24.8h1.7v1.2h-1.7zM6.2 38.2h1.2v1.4h-1.2zM45.6 26.0h1.6v1.5h-1.6zM52.0 43.5h1.7v1.6h-1.7zM17.2 28.8h1.6v1.6h-1.6zM44.6 48.1h1.6v1.4h-1.6zM39.1 2.5h1.3v1.6h-1.3zM55.7 48.4h1.3v1.1h-1.3zM54.0 37.5h1.1v0.9h-1.1zM53.6 32.9h1.0v1.8h-1.0zM35.8 43.2h1.6v1.1h-1.6zM31.9 9.8h1.5v1.3h-1.5zM48.2 6.6h1.1v1.2h-1.1zM0.1 23.2h1.8v1.7h-1.8zM11.0 47.4h1.1v1.1h-1.1zM38.9 16.8h1.1v1.0h-1.1zM10.8 11.0h1.7v0.9h-1.7zM32.9 12.1h1.5v0.9h-1.5zM22.7 42.0h0.9v1.3h-0.9zM19.9 27.6h1.5v1.0h-1.5zM52.8 15.4h1.6v1.0h-1.6zM5.7 11.0h1.0v1.1h-1.0zM8.5 4.9h1.7v1.4h-1.7zM30.3 29.0h1.6v0.9h-1.6zM2.8 38.0h0.9v1.4h-0.9zM38.1 48.4h0.9v1.3h-0.9zM19.1 33.1h0.9v1.6h-0.9zM58.4 31.3h1.5v1.7h-1.5zM51.5 46.7h1.3v1.0h-1.3zM48.5 48.1h1.5v1.2h-1.5zM59.5 35.5h1.2v1.6h-1.2zM13.7 13.7h1.7v0.9h-1.7zM53.1 22.6h1.4v1.5h-1.4zM55.1 12.5h1.0v1.4h-1.0zM13.7 24.2h1.0v1.0h-1.0zM34.6 3.0h1.1v1.2h-1.1zM5.8 45.9h1.7v0.9h-1.7zM49.2 10.0h1.6v1.0h-1.6zM45.5 53.2h1.1v1.0h-1.1zM20.8 49.0h1.6v1.0h-1.6zM55.0 42.1h1.8v1.8h-1.8zM9.7 41.5h0.9v1.1h-0.9zM32.7 13.3h1.1v1.2h-1.1zM28.0 52.3h1.4v1.4h-1.4zM43.9 10.7h1.6v1.6h-1.6zM49.7 25.7h1.4v1.0h-1.4zM28.0 36.7h1.8v1.7h-1.8zM20.7 43.1h1.7v1.8h-1.7zM41.5 18.8h1.7v0.9h-1.7zM34.6 26.1h1.7v1.5h-1.7zM12.2 9.4h0.9v1.6h-0.9zM47.8 21.3h1.1v1.4h-1.1zM11.9 30.0h1.2v1.2h-1.2zM42.2 14.2h1.2v1.4h-1.2zM57.5 8.6h1.2v1.1h-1.2zM19.2 27.8h1.6v1.1h-1.6zM43.8 24.6h1.4v1.4h-1.4zM36.8 10.2h1.5v1.3h-1.5zM47.8 34.0h1.3v1.8h-1.3zM10.9 0.8h1.0v1.5h-1.0zM5.6 41.9h1.0v1.2h-1.0zM38.0 1.2h1.3v1.8h-1.3zM44.4 22.2h1.7v1.4h-1.7zM49.5 19.6h1.2v1.5h-1.2zM46.4 39.5h1.0v1.3h-1.0zM19.4 13.2h1.0v1.6h-1.0zM8.6 20.2h0.9v1.5h-0.9zM38.1 4.5h1.8v1.8h-1.8zM45.8 45.9h1.5v0.9h-1.5zM16.7 13.5h0.9v1.5h-0.9zM36.1 20.6h1.6v1.1h-1.6zM17.1 6.6h1.1v1.7h-1.1zM29.9 42.0h1.7v1.5h-1.7zM22.0 55.1h1.0v1.3h-1.0zM54.0 38.9h1.2v1.6h-1.2zM46.2 41.2h1.1v1.5h-1.1zM40.0 47.9h1.4v1.7h-1.4zM43.9 11.9h1.4v1.1h-1.4zM37.7 18.6h1.8v1.2h-1.8zM48.2 47.6h1.2v1.4h-1.2zM14.2 21.4h1.3v1.5h-1.3zM31.0 9.2h1.5v1.4h-1.5zM32.0 25.4h1.7v1.5h-1.7zM40.4 28.6h1.3v1.3h-1.3zM41.4 25.0h1.0v1.1h-1.0zM3.3 2.8h1.2v1.2h-1.2zM27.8 11.5h1.1v1.3h-1.1zM17.7 14.9h1.3v1.6h-1.3zM3.7 0.8h1.3v1.7h-1.3zM38.5 20.8h1.8v1.5h-1.8zM50.4 48.0h0.9v1.1h-0.9zM48.2 22.3h1.7v1.0h-1.7zM57.2 35.4h1.3v1.6h-1.3zM32.7 26.2h1.1v1.6h-1.1zM8.9 17.1h1.0v0.9h-1.0zM18.1 2.5h1.3v1.2h-1.3zM1.1 26.4h1.2v1.1h-1.2zM33.0 19.0h0.9v1.7h-0.9zM59.3 13.5h1.5v1.4h-1.5zM15.2 30.7h1.1v1.1h-1.1zM27.7 2.6h1.1v1.8h-1.1zM47.0 18.9h1.8v1.2h-1.8zM51.9 18.4h1.7v1.3h-1.7zM53.2 7.8h1.3v1.2h-1.3zM47.7 49.3h1.0v1.3h-1.0zM10.5 3.8h1.0v1.0h-1.0zM18.4 24.6h1.7v1.5h-1.7zM46.4 18.8h1.2v1.3h-1.2zM14.2 1.1h1.1v1.7h-1.1zM3.1 28.7h1.1v1.6h-1.1zM2.3 29.1h1.6v1.3h-1.6zM8.8 50.7h0.9v1.7h-0.9zM49.9 50.4h1.7v1.2h-1.7zM38.2 26.8h1.4v1.2h-1.4zM52.1 17.5h1.4v1.0h-1.4zM3.6 50.4h1.2v1.2h-1.2zM60.1 41.2h1.0v1.4h-1.0zM-0.9 41.2h1.0v1.4h-1.0zM29.5 34.5h1.1v1.1h-1.1zM57.6 34.0h1.4v1.5h-1.4zM45.9 10.2h1.6v1.3h-1.6zM9.2 18.0h1.8v1.7h-1.8zM55.1 28.5h1.5v1.3h-1.5zM44.8 30.5h1.2v1.8h-1.2zM30.6 2.3h1.6v1.0h-1.6zM17.1 25.8h1.1v1.3h-1.1zM26.8 30.2h1.5v1.5h-1.5zM3.1 13.5h1.0v1.2h-1.0zM27.9 48.6h0.9v1.6h-0.9zM9.5 42.2h1.7v1.8h-1.7zM35.1 3.2h1.2v1.3h-1.2zM41.1 55.2h1.7v1.0h-1.7zM7.8 37.1h1.1v1.4h-1.1zM31.1 31.1h1.2v1.7h-1.2zM17.9 20.6h1.0v1.2h-1.0zM8.1 36.4h0.9v1.1h-0.9zM49.3 48.6h1.2v1.6h-1.2zM49.4 37.1h1.5v1.6h-1.5zM19.5 18.9h1.1v1.1h-1.1zM31.3 30.7h1.1v1.0h-1.1zM1.5 12.1h1.0v1.5h-1.0zM49.5 30.5h1.5v1.3h-1.5zM4.5 42.6h1.6v1.0h-1.6zM18.9 38.9h1.5v1.0h-1.5zM23.6 22.0h1.4v1.6h-1.4zM8.9 21.4h1.7v1.1h-1.7zM10.8 44.8h1.5v1.3h-1.5zM28.0 3.6h1.5v1.1h-1.5zM26.9 52.9h1.3v1.3h-1.3zM21.5 16.2h1.5v1.5h-1.5zM7.0 0.3h1.3v1.0h-1.3zM36.5 9.2h1.4v1.3h-1.4zM59.4 18.2h1.1v1.2h-1.1zM40.2 13.7h1.1v1.5h-1.1zM32.3 4.1h1.7v1.0h-1.7zM18.1 31.1h1.3v1.6h-1.3zM9.0 37.3h1.1v1.0h-1.1zM42.6 44.2h1.0v0.9h-1.0zM12.2 32.8h0.9v1.8h-0.9zM1.1 42.3h1.6v1.2h-1.6zM49.7 10.0h1.6v1.4h-1.6zM51.9 45.3h1.6v1.7h-1.6zM15.5 1.8h1.1v1.6h-1.1zM31.6 28.1h1.3v0.9h-1.3zM56.5 32.4h1.4v1.3h-1.4zM54.0 26.9h1.4v1.6h-1.4zM9.0 47.1h1.5v1.2h-1.5zM9.1 29.4h1.2v0.9h-1.2zM50.3 42.6h1.7v1.6h-1.7zM24.8 52.1h1.1v1.1h-1.1zM28.6 38.6h1.0v1.0h-1.0zM56.8 0.8h1.6v1.3h-1.6zM58.6 49.0h1.3v1.4h-1.3zM42.5 14.9h0.9v1.8h-0.9zM33.2 45.6h1.4v1.0h-1.4zM6.3 13.4h1.8v1.6h-1.8zM17.9 25.4h1.8v1.4h-1.8zM19.3 30.1h1.1v1.4h-1.1zM4.4 29.7h1.0v0.9h-1.0zM46.1 28.8h1.0v1.3h-1.0zM54.1 20.6h1.1v1.3h-1.1zM54.6 35.1h1.3v1.5h-1.3zM21.5 53.3h1.1v1.1h-1.1zM29.7 45.7h1.6v1.5h-1.6zM0.1 45.6h1.7v1.0h-1.7zM12.0 12.5h1.0v1.0h-1.0zM30.6 39.6h1.3v1.4h-1.3zM41.9 47.0h1.8v1.5h-1.8zM30.3 3.2h1.2v1.1h-1.2zM58.5 41.5h1.0v1.2h-1.0zM25.7 35.8h1.8v1.2h-1.8zM42.6 23.5h1.7v1.4h-1.7zM46.8 33.2h1.5v1.6h-1.5zM23.8 25.4h1.5v1.5h-1.5zM36.2 20.5h1.3v1.4h-1.3zM23.3 18.3h1.0v1.0h-1.0zM9.5 5.0h1.2v1.8h-1.2zM24.4 52.0h1.5v1.7h-1.5zM39.7 54.6h1.6v1.0h-1.6zM0.2 54.8h1.2v1.5h-1.2zM58.2 56.2h1.4v1.2h-1.4zM58.2 -0.8h1.4v1.2h-1.4zM36.0 39.7h1.0v1.6h-1.0zM0.2 22.1h1.7v1.7h-1.7zM52.6 49.3h1.3v1.3h-1.3zM29.2 29.5h1.1v1.2h-1.1zM29.2 1.1h1.4v1.0h-1.4zM34.1 3.4h1.1v1.3h-1.1zM46.4 56.3h1.6v1.6h-1.6zM46.4 -0.7h1.6v1.6h-1.6zM26.6 29.5h1.4v1.8h-1.4zM51.7 0.7h1.5v1.5h-1.5zM54.3 53.0h1.3v1.3h-1.3zM14.4 11.0h1.7v1.6h-1.7zM50.6 18.4h1.6v0.9h-1.6zM30.4 17.8h1.2v1.8h-1.2zM0.2 54.4h1.5v1.8h-1.5zM24.7 51.3h1.4v1.4h-1.4zM38.3 14.9h1.4v1.1h-1.4zM2.0 41.1h0.9v1.7h-0.9zM13.8 51.9h1.2v1.5h-1.2zM20.7 39.6h1.1v1.1h-1.1zM16.3 56.0h1.7v1.2h-1.7zM16.3 -1.0h1.7v1.2h-1.7zM58.4 53.3h1.0v1.5h-1.0zM13.0 19.6h1.2v1.1h-1.2zM35.8 12.4h1.2v1.0h-1.2zM16.3 44.1h1.2v1.8h-1.2zM6.8 1.6h1.1v1.4h-1.1zM18.9 22.8h1.6v1.5h-1.6zM14.7 50.1h1.2v1.4h-1.2zM22.0 43.1h1.4v1.3h-1.4zM10.5 4.4h1.1v1.7h-1.1zM56.4 23.1h1.0v1.1h-1.0zM57.1 7.3h1.3v1.0h-1.3zM30.3 19.6h1.8v1.8h-1.8zM30.7 47.6h1.5v1.3h-1.5zM47.0 2.0h1.1v1.6h-1.1zM31.6 39.0h1.4v1.7h-1.4zM15.4 10.1h1.2v1.7h-1.2zM30.7 43.5h1.6v1.2h-1.6zM45.0 44.9h1.4v1.4h-1.4zM28.7 25.9h1.1v1.4h-1.1zM52.3 14.5h1.3v1.2h-1.3zM18.1 52.8h1.6v1.0h-1.6zM31.5 19.9h1.2v1.0h-1.2zM36.7 20.5h1.5v1.0h-1.5zM31.6 25.3h1.5v1.0h-1.5zM48.1 30.0h1.1v1.1h-1.1zM49.6 0.7h1.4v1.2h-1.4zM20.9 55.1h1.0v1.1h-1.0zM0.7 20.8h1.0v0.9h-1.0zM41.7 53.8h1.1v1.4h-1.1zM58.8 10.1h1.0v1.4h-1.0zM3.2 33.1h1.7v1.7h-1.7zM6.9 31.7h1.4v1.3h-1.4zM11.2 34.5h1.0v1.5h-1.0zM5.4 0.1h1.7v1.2h-1.7zM24.9 29.3h1.3v0.9h-1.3zM49.9 55.8h1.2v1.2h-1.2zM17.0 37.6h1.4v1.4h-1.4zM37.3 14.8h1.4v1.4h-1.4zM38.2 36.5h1.8v1.0h-1.8zM31.1 33.8h1.0v1.2h-1.0zM15.0 31.0h1.5v1.1h-1.5zM28.2 11.8h1.3v1.8h-1.3zM54.1 20.6h1.2v1.1h-1.2zM53.8 52.8h0.9v1.3h-0.9zM24.4 13.6h1.5v1.6h-1.5zM22.5 56.0h1.4v1.1h-1.4zM22.5 -1.0h1.4v1.1h-1.4zM41.7 7.6h1.3v1.4h-1.3zM11.3 6.1h1.2v1.7h-1.2zM12.4 26.9h1.4v1.1h-1.4zM22.8 49.4h1.6v1.4h-1.6zM38.2 0.4h1.1v1.2h-1.1zM3.5 25.7h1.5v1.5h-1.5zM37.1 29.2h1.7v1.1h-1.7zM18.2 13.6h1.2v1.7h-1.2zM27.9 52.0h1.3v1.2h-1.3zM37.6 2.0h1.3v1.2h-1.3zM29.5 23.2h1.5v1.5h-1.5zM0.1 29.8h1.3v1.2h-1.3zM11.3 46.1h1.1v1.1h-1.1zM20.0 52.0h1.3v1.0h-1.3zM13.0 17.5h1.6v0.9h-1.6zM14.8 41.2h1.0v1.4h-1.0zM51.2 26.2h1.5v1.4h-1.5zM53.8 55.2h1.4v1.6h-1.4zM43.0 47.2h1.3v1.5h-1.3zM25.3 48.9h1.6v1.2h-1.6zM33.1 56.2h1.6v1.1h-1.6zM33.1 -0.8h1.6v1.1h-1.6zM29.3 4.5h1.1v1.6h-1.1zM10.9 35.1h1.6v1.8h-1.6zM26.0 3.2h1.3v1.5h-1.3zM46.4 48.8h1.0v1.3h-1.0zM44.5 15.5h1.6v1.8h-1.6zM20.1 34.7h0.9v1.5h-0.9zM58.1 44.3h1.2v1.7h-1.2zM0.2 32.1h1.0v1.3h-1.0zM16.5 7.1h1.7v1.6h-1.7zM32.6 9.3h1.4v1.1h-1.4zM33.5 38.3h1.8v1.1h-1.8zM16.3 10.6h1.7v1.6h-1.7zM21.4 24.6h1.6v1.4h-1.6zM35.8 23.3h1.4v0.9h-1.4zM10.6 47.9h1.7v1.4h-1.7zM40.2 24.8h1.2v1.4h-1.2zM47.7 51.8h1.1v1.3h-1.1zM26.9 42.6h1.7v1.8h-1.7zM40.8 34.4h1.0v1.0h-1.0zM1.3 35.3h1.4v0.9h-1.4zM53.9 39.3h1.5v1.1h-1.5zM18.5 31.6h1.2v1.4h-1.2zM39.9 34.2h1.2v1.8h-1.2zM15.6 31.9h1.2v0.9h-1.2zM21.5 37.3h1.7v1.3h-1.7zM9.7 36.1h0.9v1.4h-0.9zM7.1 39.8h1.6v1.6h-1.6zM20.9 45.0h1.4v1.1h-1.4zM43.2 12.4h1.8v1.6h-1.8zM0.7 39.3h1.3v0.9h-1.3zM28.8 34.0h0.9v1.0h-0.9zM46.8 14.8h1.7v1.3h-1.7zM40.2 21.2h0.9v1.5h-0.9zM17.7 31.8h1.5v1.4h-1.5zM11.5 9.3h1.6v1.7h-1.6zM20.5 35.3h1.8v1.0h-1.8zM30.8 44.8h1.5v1.4h-1.5zM48.3 21.2h1.1v1.2h-1.1zM19.3 25.2h1.0v1.7h-1.0zM39.4 40.1h1.5v1.6h-1.5zM27.3 14.9h1.1v1.0h-1.1zM58.9 38.7h1.5v1.4h-1.5zM26.3 29.8h0.9v1.5h-0.9zM26.1 4.9h1.7v1.4h-1.7zM1.0 13.9h1.2v1.3h-1.2zM0.0 23.2h1.5v1.5h-1.5zM20.7 41.2h1.0v0.9h-1.0zM1.3 9.8h1.6v1.2h-1.6zM55.3 41.7h1.6v1.8h-1.6zM39.6 38.5h1.6v1.5h-1.6zM26.1 38.9h1.0v1.6h-1.0zM3.8 53.9h1.5v1.7h-1.5zM39.0 22.9h1.4v1.3h-1.4zM5.7 47.6h1.1v1.1h-1.1zM20.0 39.6h1.3v1.2h-1.3zM35.7 17.8h1.1v1.6h-1.1zM27.6 39.3h0.9v1.8h-0.9zM11.1 31.3h1.1v1.2h-1.1zM47.5 29.5h1.8v1.0h-1.8zM53.4 51.8h1.2v1.7h-1.2zM16.8 40.3h1.2v1.4h-1.2zM38.4 48.5h1.2v1.0h-1.2zM17.1 42.2h1.2v1.3h-1.2zM39.9 23.3h1.7v1.3h-1.7zM29.5 49.8h0.9v1.2h-0.9zM40.9 37.6h1.3v1.3h-1.3zM55.4 51.2h1.1v1.3h-1.1zM0.6 6.1h1.2v1.2h-1.2zM42.8 8.0h1.3v1.7h-1.3zM7.4 12.3h1.2v1.4h-1.2zM57.4 11.7h1.3v1.4h-1.3zM50.1 52.4h1.7v1.0h-1.7zM20.4 2.6h0.9v1.3h-0.9zM26.6 34.9h1.7v1.0h-1.7zM58.9 40.3h1.0v1.5h-1.0zM7.4 4.1h1.5v1.0h-1.5zM40.5 24.3h1.5v1.2h-1.5zM37.4 5.5h1.7v1.6h-1.7zM22.2 37.0h1.0v1.5h-1.0zM14.6 54.8h1.0v0.9h-1.0zM54.3 39.0h1.5v1.0h-1.5zM26.9 41.6h1.0v1.6h-1.0zM36.1 7.1h1.4v1.3h-1.4zM48.7 32.2h1.7v1.6h-1.7zM30.4 11.3h1.8v1.2h-1.8zM38.4 47.6h1.1v0.9h-1.1zM48.1 41.7h1.0v1.2h-1.0zM37.8 32.2h1.7v1.3h-1.7zM11.5 43.6h1.3v1.1h-1.3zM8.6 14.3h1.0v1.0h-1.0zM31.6 6.3h1.1v1.5h-1.1zM11.0 43.0h0.9v1.2h-0.9zM9.0 30.8h1.3v1.6h-1.3zM26.5 48.5h1.0v1.4h-1.0zM3.6 19.4h1.7v1.1h-1.7zM3.7 56.0h0.9v1.4h-0.9zM3.7 -1.0h0.9v1.4h-0.9zM9.1 34.7h1.6v1.0h-1.6zM56.1 38.6h1.0v1.1h-1.0zM23.8 44.8h1.7v1.1h-1.7zM53.1 35.1h0.9v1.4h-0.9zM17.2 32.5h1.6v1.0h-1.6zM4.7 3.3h1.4v1.6h-1.4zM16.5 41.2h1.7v1.3h-1.7zM5.9 0.7h1.0v1.6h-1.0zM49.8 0.5h1.5v1.7h-1.5zM18.1 54.7h1.6v1.1h-1.6zM11.4 47.9h1.2v0.9h-1.2zM1.0 38.7h1.5v1.1h-1.5zM55.4 20.0h1.1v1.1h-1.1zM39.8 43.5h1.7v1.0h-1.7zM38.6 18.5h1.0v1.5h-1.0zM10.4 4.9h1.8v0.9h-1.8zM29.6 22.3h1.1v1.8h-1.1zM4.0 3.4h1.2v1.4h-1.2zM34.2 40.4h1.4v1.3h-1.4zM59.9 6.2h1.3v1.2h-1.3zM-1.1 6.2h1.3v1.2h-1.3zM59.7 28.2h1.3v1.6h-1.3zM-1.3 28.2h1.3v1.6h-1.3zM60.3 38.1h0.9v1.0h-0.9zM-0.7 38.1h0.9v1.0h-0.9zM7.8 2.9h0.9v1.8h-0.9zM24.9 42.6h1.1v1.1h-1.1zM60.0 4.9h1.7v1.0h-1.7zM-1.0 4.9h1.7v1.0h-1.7zM29.2 25.2h1.4v1.4h-1.4zM7.7 49.5h1.1v1.1h-1.1zM3.1 12.7h1.4v1.3h-1.4zM58.2 46.8h1.2v1.2h-1.2zM30.7 15.7h1.2v1.5h-1.2zM13.7 54.0h1.7v1.5h-1.7zM43.9 56.8h1.3v1.3h-1.3zM43.9 -0.2h1.3v1.3h-1.3zM39.6 44.3h1.3v1.1h-1.3zM60.8 40.8h1.5v1.0h-1.5zM-0.2 40.8h1.5v1.0h-1.5zM24.9 35.4h1.7v1.2h-1.7zM5.3 41.1h1.7v1.4h-1.7zM43.5 18.8h1.2v1.0h-1.2zM6.3 45.2h1.6v1.4h-1.6zM33.3 29.4h1.6v1.0h-1.6zM13.2 8.6h1.8v1.3h-1.8zM43.1 17.5h1.6v1.6h-1.6zM24.1 56.8h1.8v1.6h-1.8zM24.1 -0.2h1.8v1.6h-1.8zM20.8 53.9h1.8v1.4h-1.8zM22.0 35.7h1.2v1.0h-1.2zM18.5 21.9h1.3v1.4h-1.3zM56.5 36.9h1.3v1.3h-1.3zM48.4 36.1h1.3v1.2h-1.3zM45.2 37.2h1.2v1.0h-1.2zM10.3 1.7h1.5v1.7h-1.5zM34.8 1.7h1.2v1.1h-1.2zM5.9 34.9h1.7v1.7h-1.7zM49.5 14.4h1.6v1.2h-1.6zM21.2 43.9h0.9v1.5h-0.9zM19.4 26.9h1.1v1.1h-1.1z" fill="#eede32" fill-opacity="0.9"/><path d="M41.6 5.2h1.5v1.7h-1.5zM50.9 29.4h1.5v1.2h-1.5zM32.2 6.1h1.5v1.4h-1.5zM17.2 21.6h1.6v1.3h-1.6zM58.5 55.4h1.7v1.0h-1.7zM4.6 16.4h1.2v1.5h-1.2zM50.4 32.1h1.5v1.4h-1.5zM2.1 30.0h1.1v1.3h-1.1zM0.5 37.4h1.7v1.0h-1.7zM35.4 1.3h1.2v1.0h-1.2zM52.5 41.5h1.7v1.1h-1.7zM43.9 39.9h1.4v1.7h-1.4zM38.1 16.1h1.5v1.3h-1.5zM13.0 35.2h0.9v1.3h-0.9zM34.0 0.1h1.5v1.0h-1.5zM39.6 19.4h0.9v1.8h-0.9zM3.9 8.9h1.4v1.1h-1.4zM32.4 27.0h1.4v1.4h-1.4zM17.9 12.1h1.5v1.3h-1.5zM31.8 52.2h0.9v1.1h-0.9zM34.4 3.1h1.6v1.3h-1.6zM19.3 11.1h1.8v0.9h-1.8zM50.1 40.2h1.7v1.5h-1.7zM21.2 31.3h1.7v0.9h-1.7zM51.8 38.4h1.1v1.8h-1.1zM18.3 0.3h1.1v1.4h-1.1zM1.7 33.7h1.3v1.2h-1.3zM46.1 35.2h1.8v1.7h-1.8zM52.5 53.2h1.7v1.3h-1.7zM4.2 25.5h1.5v1.8h-1.5zM39.9 32.7h1.0v1.5h-1.0zM2.3 8.2h0.9v1.6h-0.9zM57.4 33.9h1.0v1.6h-1.0zM10.6 40.4h1.5v1.8h-1.5zM10.1 13.3h1.2v1.0h-1.2zM57.7 35.5h1.0v1.3h-1.0zM6.0 54.9h1.2v0.9h-1.2zM45.2 18.8h1.5v1.6h-1.5zM4.6 31.1h1.8v1.1h-1.8zM15.2 38.4h1.0v1.6h-1.0zM48.9 54.0h1.6v1.4h-1.6zM28.1 30.6h1.5v1.8h-1.5zM9.3 28.2h1.3v1.1h-1.3zM10.0 44.7h1.4v1.5h-1.4zM15.7 27.3h1.0v1.0h-1.0zM8.2 37.0h1.7v1.4h-1.7zM47.6 4.5h1.4v1.0h-1.4zM32.0 14.2h1.1v1.7h-1.1zM33.5 13.9h1.3v1.2h-1.3zM48.5 22.7h1.7v1.4h-1.7zM39.7 34.7h1.4v1.0h-1.4zM48.2 35.0h1.1v1.3h-1.1zM58.0 37.3h1.4v1.4h-1.4zM4.2 28.3h1.3v1.5h-1.3zM22.1 8.2h1.7v1.1h-1.7zM13.8 24.8h1.7v1.5h-1.7zM8.6 5.4h1.4v1.0h-1.4zM13.9 6.5h1.7v1.7h-1.7zM53.0 37.3h0.9v1.1h-0.9zM50.5 2.3h1.3v1.6h-1.3zM15.6 19.8h1.5v1.5h-1.5zM9.3 45.0h1.0v1.0h-1.0zM19.2 11.4h1.3v1.2h-1.3zM44.3 46.5h1.6v1.7h-1.6zM15.4 37.5h1.6v1.7h-1.6zM25.7 51.1h1.2v1.7h-1.2zM40.9 3.7h1.7v1.6h-1.7zM33.3 54.6h1.7v1.6h-1.7zM46.6 40.9h1.0v1.4h-1.0zM0.4 28.9h1.1v1.5h-1.1zM55.8 11.6h1.4v1.2h-1.4zM59.6 28.2h1.1v1.5h-1.1zM28.4 29.5h1.3v1.0h-1.3zM7.3 34.3h1.0v1.2h-1.0zM34.5 45.0h1.0v1.2h-1.0zM6.9 13.6h1.8v1.6h-1.8zM4.2 56.0h1.2v1.4h-1.2zM4.2 -1.0h1.2v1.4h-1.2zM48.2 12.6h1.2v1.2h-1.2zM36.5 55.3h1.0v1.8h-1.0zM36.5 -1.7h1.0v1.8h-1.0zM35.0 26.7h1.0v1.5h-1.0zM4.7 48.1h1.1v1.6h-1.1zM45.9 21.0h1.2v1.4h-1.2zM28.3 23.3h1.8v1.2h-1.8zM21.4 42.4h1.3v1.1h-1.3zM25.5 6.6h1.0v1.6h-1.0zM28.5 25.8h1.3v1.1h-1.3zM7.4 0.7h1.4v1.2h-1.4zM41.0 18.2h1.6v1.7h-1.6zM22.7 35.4h1.1v1.4h-1.1zM17.3 25.6h1.6v1.7h-1.6zM25.4 38.7h1.4v1.2h-1.4zM5.1 2.9h1.0v1.3h-1.0zM17.8 10.7h1.2v1.2h-1.2zM46.4 45.9h1.6v1.4h-1.6zM2.6 47.1h1.6v1.0h-1.6zM14.7 25.9h1.1v1.8h-1.1zM38.4 32.5h1.1v1.3h-1.1zM33.4 44.1h1.2v1.3h-1.2zM20.4 27.8h1.2v1.1h-1.2zM34.2 51.5h1.8v1.8h-1.8zM21.6 54.3h1.0v1.1h-1.0zM12.9 35.5h1.1v1.2h-1.1zM7.3 39.6h1.5v1.3h-1.5zM37.8 49.7h1.8v1.1h-1.8zM52.1 35.3h1.5v1.0h-1.5zM58.9 21.2h1.0v1.4h-1.0zM19.9 41.4h1.5v1.6h-1.5zM53.2 44.8h1.2v1.4h-1.2zM30.4 40.2h1.4v1.4h-1.4zM20.5 28.0h1.2v1.6h-1.2zM58.3 38.7h1.2v1.1h-1.2zM59.6 54.1h1.7v1.7h-1.7zM-1.4 54.1h1.7v1.7h-1.7zM33.4 42.3h1.4v0.9h-1.4zM32.9 56.1h1.2v1.5h-1.2zM32.9 -0.9h1.2v1.5h-1.2zM7.8 37.8h1.2v1.8h-1.2zM32.0 39.3h1.2v1.2h-1.2zM48.1 28.8h1.5v1.7h-1.5zM6.5 20.3h1.7v1.5h-1.7zM49.0 35.7h1.6v1.0h-1.6zM6.5 43.6h1.6v1.2h-1.6zM27.5 49.8h1.7v1.1h-1.7zM60.2 56.4h1.2v1.4h-1.2zM60.2 -0.6h1.2v1.4h-1.2zM-0.8 56.4h1.2v1.4h-1.2zM-0.8 -0.6h1.2v1.4h-1.2zM10.3 24.4h1.1v1.2h-1.1zM39.2 47.3h1.3v1.8h-1.3zM5.8 38.7h1.8v1.0h-1.8zM13.4 25.8h1.1v1.7h-1.1zM31.7 0.2h1.2v1.3h-1.2zM38.2 11.8h1.6v1.3h-1.6zM35.8 25.3h1.7v1.0h-1.7zM45.1 47.6h1.8v0.9h-1.8zM12.5 20.1h1.7v1.5h-1.7zM29.2 36.9h1.4v1.7h-1.4zM28.8 23.6h1.1v1.5h-1.1zM6.5 26.7h1.0v1.3h-1.0zM39.7 48.2h1.4v1.5h-1.4zM9.4 21.7h0.9v1.4h-0.9zM22.3 29.7h0.9v1.8h-0.9zM51.5 10.7h1.7v1.4h-1.7zM42.7 31.6h1.8v1.0h-1.8zM52.4 42.5h1.5v1.8h-1.5zM58.1 0.3h1.1v1.5h-1.1zM35.9 32.5h1.4v1.6h-1.4zM6.9 11.3h1.1v1.3h-1.1zM33.5 24.5h1.2v1.5h-1.2zM7.0 12.1h1.8v1.5h-1.8zM11.4 23.2h1.2v1.3h-1.2zM52.1 45.0h0.9v1.5h-0.9zM58.1 23.5h1.2v1.1h-1.2zM18.8 52.6h1.2v1.1h-1.2zM24.4 51.3h0.9v0.9h-0.9zM42.2 2.1h1.1v1.3h-1.1zM27.2 17.8h1.5v1.2h-1.5zM35.5 50.1h1.6v1.7h-1.6zM7.7 23.0h1.5v1.2h-1.5zM19.2 5.7h1.2v1.8h-1.2zM24.6 3.6h1.2v0.9h-1.2zM46.6 11.2h1.4v1.7h-1.4zM29.8 52.8h1.4v1.1h-1.4zM26.6 3.4h1.4v1.3h-1.4zM34.6 9.9h1.2v1.7h-1.2zM39.4 38.5h1.2v1.2h-1.2zM26.7 6.0h1.6v1.1h-1.6zM7.2 8.2h1.2v1.1h-1.2zM50.7 34.8h1.4v1.7h-1.4zM19.5 15.5h1.5v1.4h-1.5zM27.9 4.7h1.6v1.5h-1.6zM17.5 48.9h1.2v1.1h-1.2zM47.5 5.3h1.0v1.1h-1.0zM30.5 27.3h1.7v1.7h-1.7zM55.3 19.8h1.3v1.1h-1.3zM9.9 23.8h1.2v1.0h-1.2zM29.9 33.7h1.7v1.1h-1.7zM56.0 9.1h1.3v1.1h-1.3zM52.7 11.3h1.2v1.0h-1.2zM53.5 49.8h1.1v1.5h-1.1zM9.0 53.2h1.4v1.0h-1.4zM12.1 47.4h1.4v1.5h-1.4zM11.8 53.0h1.8v1.6h-1.8zM57.8 8.9h1.2v1.6h-1.2zM52.9 38.1h1.8v1.0h-1.8zM24.2 37.7h1.6v1.7h-1.6zM54.4 19.8h1.7v1.6h-1.7zM55.6 33.4h1.0v1.7h-1.0zM4.9 30.6h1.4v1.6h-1.4zM45.1 51.9h0.9v1.8h-0.9zM54.9 24.8h1.1v1.5h-1.1zM30.8 29.4h1.8v1.6h-1.8zM30.0 6.1h1.6v1.5h-1.6zM60.9 40.8h1.3v1.6h-1.3zM-0.1 40.8h1.3v1.6h-1.3zM58.1 50.5h1.4v1.1h-1.4zM13.1 9.5h1.2v1.7h-1.2zM36.0 4.2h1.0v1.4h-1.0zM57.7 51.2h1.6v1.4h-1.6zM13.0 27.1h1.6v1.1h-1.6zM7.7 33.2h1.1v1.2h-1.1zM9.9 12.1h1.5v1.6h-1.5zM53.7 1.7h1.7v1.2h-1.7zM4.2 12.5h1.3v1.4h-1.3zM11.2 13.9h1.4v1.7h-1.4zM50.5 1.6h1.7v1.2h-1.7zM51.5 20.7h1.1v1.7h-1.1zM26.6 49.4h1.3v1.4h-1.3zM39.0 22.1h1.2v1.6h-1.2zM38.1 16.4h1.0v1.1h-1.0zM8.0 28.7h1.5v1.2h-1.5zM10.0 45.5h1.5v1.5h-1.5zM37.8 1.4h1.1v1.7h-1.1zM23.6 6.7h1.1v1.3h-1.1zM40.8 31.4h1.1v1.0h-1.1zM7.9 40.0h1.3v1.6h-1.3zM51.0 50.3h1.5v1.2h-1.5zM28.0 39.6h1.2v1.3h-1.2zM27.5 17.1h1.4v1.3h-1.4zM59.1 46.7h1.1v1.7h-1.1zM11.0 8.9h1.1v1.5h-1.1zM54.0 24.2h1.6v1.8h-1.6zM34.2 53.5h1.4v1.5h-1.4zM3.3 10.2h1.1v1.8h-1.1zM39.7 41.3h1.5v1.6h-1.5zM33.2 15.1h1.0v1.1h-1.0zM34.9 56.8h1.5v1.0h-1.5zM34.9 -0.2h1.5v1.0h-1.5zM51.2 27.9h1.0v1.8h-1.0zM25.4 32.0h1.1v1.2h-1.1zM53.2 48.9h1.6v1.7h-1.6zM54.7 50.1h1.0v0.9h-1.0zM25.1 13.7h1.4v1.5h-1.4zM12.5 42.1h1.5v0.9h-1.5zM41.7 23.5h1.5v1.6h-1.5zM40.2 14.8h1.3v1.0h-1.3zM60.6 31.3h1.7v1.1h-1.7zM-0.4 31.3h1.7v1.1h-1.7zM19.2 14.7h1.6v1.2h-1.6zM45.0 8.9h1.8v1.7h-1.8zM25.6 42.9h1.3v1.0h-1.3zM40.8 25.7h1.3v1.5h-1.3zM39.3 24.9h1.1v1.6h-1.1zM2.3 51.3h1.2v1.6h-1.2zM52.6 9.1h1.0v1.0h-1.0zM31.0 23.1h1.8v1.4h-1.8zM45.8 45.1h1.0v1.7h-1.0zM59.3 47.7h1.4v1.4h-1.4zM43.7 22.8h1.5v1.6h-1.5zM1.2 38.7h1.1v1.0h-1.1zM60.0 26.0h1.1v1.5h-1.1zM-1.0 26.0h1.1v1.5h-1.1zM34.3 36.7h1.0v1.2h-1.0zM59.1 15.6h1.5v1.7h-1.5zM19.1 13.0h1.3v1.8h-1.3zM27.4 33.4h1.4v1.0h-1.4zM25.6 14.3h1.7v1.6h-1.7zM16.4 1.4h1.0v1.6h-1.0zM40.3 38.5h1.4v1.2h-1.4zM10.3 5.6h1.5v1.2h-1.5zM39.1 5.2h1.4v1.5h-1.4zM18.3 34.8h1.2v1.2h-1.2zM35.8 56.5h1.2v1.4h-1.2zM35.8 -0.5h1.2v1.4h-1.2zM30.9 46.8h1.1v1.3h-1.1zM22.2 10.4h1.6v1.6h-1.6zM42.8 35.2h1.3v1.5h-1.3zM45.6 15.2h1.6v1.7h-1.6zM17.3 20.3h1.2v1.2h-1.2zM40.2 54.8h1.2v1.8h-1.2zM2.2 30.4h1.6v1.1h-1.6zM2.0 23.3h1.1v1.6h-1.1zM17.9 34.3h1.7v1.1h-1.7zM49.5 6.6h1.7v1.8h-1.7zM8.0 40.5h1.4v1.2h-1.4zM18.7 43.9h1.2v1.2h-1.2zM34.7 50.3h1.3v1.6h-1.3zM50.7 18.1h1.2v1.0h-1.2zM55.8 53.2h0.9v1.6h-0.9zM3.2 5.3h1.0v1.0h-1.0zM59.7 12.5h1.2v1.4h-1.2zM2.3 1.6h1.2v1.3h-1.2zM56.9 24.5h1.0v1.4h-1.0zM36.9 24.1h1.6v1.5h-1.6zM49.3 54.2h1.1v1.8h-1.1zM43.0 38.1h1.5v1.0h-1.5zM13.0 11.0h0.9v1.4h-0.9zM5.1 5.9h1.5v1.6h-1.5zM52.8 21.2h1.0v1.6h-1.0zM4.9 14.5h1.5v0.9h-1.5zM1.3 0.1h1.1v0.9h-1.1zM17.3 18.1h1.8v1.1h-1.8zM58.6 27.1h1.3v1.5h-1.3zM2.8 53.7h1.6v1.6h-1.6zM29.2 9.8h1.4v0.9h-1.4zM25.2 55.8h1.1v0.9h-1.1zM40.9 35.2h1.1v1.7h-1.1zM58.4 5.8h1.5v1.1h-1.5zM45.5 12.4h1.2v1.8h-1.2zM50.6 40.5h1.3v1.0h-1.3zM34.7 7.8h1.4v1.1h-1.4zM3.7 6.6h1.0v1.3h-1.0zM2.5 12.7h1.0v1.0h-1.0zM2.3 55.3h1.0v1.1h-1.0zM51.1 7.1h1.4v1.0h-1.4zM8.3 40.0h1.3v1.5h-1.3zM51.9 4.0h1.4v1.2h-1.4zM34.5 19.7h1.1v1.2h-1.1zM60.1 4.9h1.6v1.4h-1.6zM-0.9 4.9h1.6v1.4h-1.6zM17.9 0.6h1.0v1.4h-1.0zM38.9 18.3h1.7v1.2h-1.7zM50.0 8.6h1.8v1.4h-1.8zM11.4 3.0h1.4v1.1h-1.4zM14.4 50.0h1.0v1.5h-1.0zM5.7 22.0h1.4v1.4h-1.4zM44.0 13.9h1.3v1.7h-1.3zM47.8 50.4h1.5v1.5h-1.5zM17.8 36.0h1.1v1.5h-1.1zM30.3 43.7h1.5v1.7h-1.5zM59.8 56.3h1.3v0.9h-1.3zM59.8 -0.7h1.3v0.9h-1.3zM-1.2 56.3h1.3v0.9h-1.3zM-1.2 -0.7h1.3v0.9h-1.3zM0.7 26.1h1.3v1.6h-1.3zM10.6 32.0h1.6v1.0h-1.6zM27.7 40.0h1.0v1.6h-1.0zM27.8 2.9h1.2v1.0h-1.2zM2.6 34.9h1.5v1.3h-1.5zM22.7 10.3h1.2v1.7h-1.2zM34.1 16.9h1.3v1.4h-1.3zM44.0 36.0h1.7v1.7h-1.7zM48.2 30.7h1.5v1.1h-1.5zM47.7 9.7h1.5v1.1h-1.5zM40.6 17.1h1.1v1.5h-1.1zM57.4 42.2h1.0v1.3h-1.0zM47.7 44.8h1.3v1.3h-1.3zM21.3 43.4h1.4v1.2h-1.4zM55.4 35.5h1.5v1.0h-1.5zM14.5 2.4h1.2v1.3h-1.2zM33.2 33.9h1.3v1.1h-1.3zM29.5 32.1h1.2v1.1h-1.2zM17.7 45.4h1.5v1.1h-1.5zM14.2 20.7h1.6v1.2h-1.6zM8.2 50.9h1.5v1.5h-1.5zM24.4 5.7h1.5v1.4h-1.5zM59.5 6.6h1.8v1.6h-1.8zM-1.5 6.6h1.8v1.6h-1.8zM41.4 39.0h1.7v1.4h-1.7zM43.6 9.4h1.4v1.1h-1.4zM48.6 29.4h1.0v1.7h-1.0zM50.5 53.4h1.3v0.9h-1.3zM9.3 40.4h1.5v1.5h-1.5zM6.9 33.9h1.8v1.5h-1.8zM59.4 6.0h1.4v1.4h-1.4zM32.4 23.2h1.6v1.4h-1.6zM19.0 37.6h1.0v1.2h-1.0zM43.3 1.3h1.7v1.3h-1.7zM0.9 37.2h1.3v1.4h-1.3zM4.0 37.4h1.6v1.1h-1.6zM15.2 49.7h1.7v1.6h-1.7zM56.7 27.1h1.3v1.1h-1.3zM22.0 2.2h1.1v1.3h-1.1zM19.2 49.9h1.1v1.0h-1.1zM26.6 46.9h1.6v1.5h-1.6zM17.0 42.0h1.6v1.6h-1.6zM49.7 21.4h1.1v1.5h-1.1zM15.3 16.3h1.0v1.2h-1.0zM49.2 5.3h1.2v1.0h-1.2zM2.6 28.7h1.1v1.5h-1.1zM19.6 23.0h1.0v1.4h-1.0zM6.2 52.4h1.6v1.3h-1.6zM42.8 52.4h1.0v1.3h-1.0zM20.5 52.2h1.7v1.4h-1.7zM27.1 52.8h1.1v0.9h-1.1z" fill="#73e82d" fill-opacity="0.9"/></pattern>
<linearGradient id="gd1" gradientUnits="userSpaceOnUse" x1="0" y1="0" x2="0" y2="200"><stop offset="0.3475" stop-color="#36ef0e"/><stop offset="0.3625" stop-color="#4cc9ab"/><stop offset="0.3850" stop-color="#3268e2"/><stop offset="0.4100" stop-color="#2c44e7"/><stop offset="0.4650" stop-color="#2c44e7"/><stop offset="0.4900" stop-color="#3268e2"/><stop offset="0.5100" stop-color="#4cc9ab"/><stop offset="0.5275" stop-color="#36ef0e"/></linearGradient>
<linearGradient id="ge1u" gradientUnits="userSpaceOnUse" x1="0" y1="0" x2="0" y2="200"><stop offset="0.2200" stop-color="#36ef0e"/><stop offset="0.2350" stop-color="#4cc9ab"/><stop offset="0.2600" stop-color="#3268e2"/><stop offset="0.3100" stop-color="#2c44e7"/><stop offset="0.4200" stop-color="#2c44e7"/></linearGradient>
<linearGradient id="ge1l" gradientUnits="userSpaceOnUse" x1="0" y1="0" x2="0" y2="200"><stop offset="0.4400" stop-color="#2c44e7"/><stop offset="0.5400" stop-color="#2c44e7"/><stop offset="0.5900" stop-color="#3268e2"/><stop offset="0.6150" stop-color="#4cc9ab"/><stop offset="0.6325" stop-color="#36ef0e"/></linearGradient>
<linearGradient id="gd2" gradientUnits="userSpaceOnUse" x1="0" y1="0" x2="0" y2="400"><stop offset="0.5062" stop-color="#36ef0e"/><stop offset="0.5138" stop-color="#4cc9ab"/><stop offset="0.5225" stop-color="#3268e2"/><stop offset="0.5325" stop-color="#2c44e7"/><stop offset="0.5625" stop-color="#2c44e7"/><stop offset="0.5725" stop-color="#3268e2"/><stop offset="0.5800" stop-color="#4cc9ab"/><stop offset="0.5863" stop-color="#36ef0e"/></linearGradient>
<linearGradient id="ge2" gradientUnits="userSpaceOnUse" x1="0" y1="0" x2="0" y2="400"><stop offset="0.4550" stop-color="#36ef0e"/><stop offset="0.4625" stop-color="#4cc9ab"/><stop offset="0.4775" stop-color="#3f9ccc"/><stop offset="0.4950" stop-color="#3268e2"/><stop offset="0.5150" stop-color="#2c44e7"/><stop offset="0.5900" stop-color="#2c44e7"/><stop offset="0.6100" stop-color="#3268e2"/><stop offset="0.6250" stop-color="#4cc9ab"/><stop offset="0.6362" stop-color="#36ef0e"/></linearGradient>
<linearGradient id="gc3" gradientUnits="userSpaceOnUse" x1="0" y1="0" x2="0" y2="500"><stop offset="0.7120" stop-color="#f70010"/><stop offset="0.7180" stop-color="#7f7733"/><stop offset="0.7240" stop-color="#7f7733"/><stop offset="0.7320" stop-color="#f70010"/></linearGradient>
<linearGradient id="gd3" gradientUnits="userSpaceOnUse" x1="0" y1="0" x2="0" y2="500"><stop offset="0.6860" stop-color="#f70010"/><stop offset="0.6900" stop-color="#3ed844"/><stop offset="0.7000" stop-color="#3ed844"/><stop offset="0.7060" stop-color="#0036ff"/><stop offset="0.7320" stop-color="#0036ff"/><stop offset="0.7400" stop-color="#0d87a5"/><stop offset="0.7460" stop-color="#3ed844"/><stop offset="0.7540" stop-color="#3ed844"/><stop offset="0.7570" stop-color="#f70010"/></linearGradient>
<linearGradient id="ge3u" gradientUnits="userSpaceOnUse" x1="0" y1="0" x2="0" y2="500"><stop offset="0.6290" stop-color="#f70010"/><stop offset="0.6350" stop-color="#3ed844"/><stop offset="0.6800" stop-color="#3ed844"/><stop offset="0.7000" stop-color="#0d87a5"/><stop offset="0.7160" stop-color="#0036ff"/><stop offset="0.7340" stop-color="#0036ff"/></linearGradient>
<linearGradient id="ge3l" gradientUnits="userSpaceOnUse" x1="0" y1="0" x2="0" y2="500"><stop offset="0.7320" stop-color="#0036ff"/><stop offset="0.7440" stop-color="#0d87a5"/><stop offset="0.7600" stop-color="#3ed844"/><stop offset="0.8260" stop-color="#3ed844"/><stop offset="0.8310" stop-color="#f70010"/></linearGradient>
</defs>
<filter id="bl" x="-5%" y="-5%" width="110%" height="110%"><feGaussianBlur stdDeviation="0.5"/></filter>
<g filter="url(#bl)">
<clipPath id="cc1"><polygon points="353.00,17.90 399.80,17.90 436.10,155.00 389.70,155.00"/></clipPath>
<clipPath id="cc2"><polygon points="365.60,158.20 413.40,158.20 454.20,293.00 406.10,293.00"/></clipPath>
<clipPath id="cc3"><polygon points="361.90,301.60 408.60,301.60 444.50,437.20 397.50,437.20"/></clipPath>
<polygon points="278.00,17.80 329.60,17.80 369.60,154.30 318.50,154.30" fill="#36ef0e" />
<polygon points="353.00,17.90 399.80,17.90 436.10,155.00 389.70,155.00" fill="#36ef0e" />
<polygon points="422.60,17.70 470.30,17.70 488.60,87.60 440.20,87.60" fill="url(#gd1)" />
<polygon points="443.20,87.60 490.00,87.60 506.20,155.30 459.90,155.30" fill="url(#gd1)" />
<polygon points="488.30,17.50 536.70,17.50 544.40,45.00 548.20,84.00 500.50,84.00 496.00,45.00" fill="url(#ge1u)" />
<polygon points="514.70,87.00 561.60,87.00 566.30,126.00 575.70,156.50 527.80,156.50 519.40,126.00" fill="url(#ge1l)" />
<polygon points="566.50,17.30 617.30,17.30 617.30,82.00 566.50,82.00" fill="#2918f4" />
<polygon points="617.00,84.00 669.20,84.00 668.20,151.10 617.00,151.10" fill="#2918f4" />
<polygon points="286.00,158.30 337.00,158.30 379.80,293.50 329.00,293.50" fill="#36ef0e" />
<polygon points="365.60,158.20 413.40,158.20 454.20,293.00 406.10,293.00" fill="#36ef0e" />
<polygon points="440.80,158.00 488.00,158.00 528.60,291.00 480.60,291.00" fill="url(#gd2)" />
<polygon points="516.60,158.50 565.00,158.50 604.70,290.90 557.30,290.90" fill="url(#ge2)" />
<polygon points="586.00,159.00 633.00,159.00 676.00,291.00 628.90,291.00" fill="#2918f4" />
<polygon points="286.70,301.60 334.00,301.60 370.90,437.20 323.30,437.20" fill="#f70010" />
<polygon points="361.90,301.60 408.60,301.60 444.50,437.20 397.50,437.20" fill="url(#gc3)" />
<polygon points="434.00,298.10 482.50,298.10 494.40,359.30 446.00,359.30" fill="url(#gd3)" />
<polygon points="452.40,359.00 501.80,359.00 518.60,436.90 470.20,436.90" fill="url(#gd3)" />
<polygon points="504.10,299.00 550.90,299.00 555.00,316.00 560.60,366.80 517.00,366.80 509.00,316.00" fill="url(#ge3u)" />
<polygon points="531.60,365.90 581.60,365.90 585.00,414.30 591.30,436.90 542.90,436.90 536.00,414.30" fill="url(#ge3l)" />
<polygon points="586.30,304.40 632.80,304.40 632.80,368.20 586.30,368.20" fill="#2f03ee" />
<polygon points="632.00,369.30 678.40,369.30 678.40,437.00 632.00,437.00" fill="#2f03ee" />
<polygon points="278.00,17.80 329.60,17.80 369.60,154.30 318.50,154.30" fill="url(#pc)" />
<polygon points="353.00,17.90 399.80,17.90 436.10,155.00 389.70,155.00" fill="url(#pc)" />
<polygon points="422.60,17.70 470.30,17.70 488.60,87.60 440.20,87.60" fill="url(#pc)" />
<polygon points="443.20,87.60 490.00,87.60 506.20,155.30 459.90,155.30" fill="url(#pc)" />
<polygon points="488.30,17.50 536.70,17.50 544.40,45.00 548.20,84.00 500.50,84.00 496.00,45.00" fill="url(#pc)" />
<polygon points="514.70,87.00 561.60,87.00 566.30,126.00 575.70,156.50 527.80,156.50 519.40,126.00" fill="url(#pc)" />
<polygon points="566.50,17.30 617.30,17.30 617.30,82.00 566.50,82.00" fill="url(#pc)" />
<polygon points="617.00,84.00 669.20,84.00 668.20,151.10 617.00,151.10" fill="url(#pc)" />
<polygon points="286.00,158.30 337.00,158.30 379.80,293.50 329.00,293.50" fill="url(#pc)" />
<polygon points="365.60,158.20 413.40,158.20 454.20,293.00 406.10,293.00" fill="url(#pc)" />
<polygon points="440.80,158.00 488.00,158.00 528.60,291.00 480.60,291.00" fill="url(#pc)" />
<polygon points="516.60,158.50 565.00,158.50 604.70,290.90 557.30,290.90" fill="url(#pc)" />
<polygon points="586.00,159.00 633.00,159.00 676.00,291.00 628.90,291.00" fill="url(#pc)" />
<polygon points="286.70,301.60 334.00,301.60 370.90,437.20 323.30,437.20" fill="url(#py)" />
<polygon points="361.90,301.60 408.60,301.60 444.50,437.20 397.50,437.20" fill="url(#py)" />
<polygon points="434.00,298.10 482.50,298.10 494.40,359.30 446.00,359.30" fill="url(#py)" />
<polygon points="452.40,359.00 501.80,359.00 518.60,436.90 470.20,436.90" fill="url(#py)" />
<polygon points="504.10,299.00 550.90,299.00 555.00,316.00 560.60,366.80 517.00,366.80 509.00,316.00" fill="url(#py)" />
<polygon points="531.60,365.90 581.60,365.90 585.00,414.30 591.30,436.90 542.90,436.90 536.00,414.30" fill="url(#py)" />
<polygon points="586.30,304.40 632.80,304.40 632.80,368.20 586.30,368.20" fill="url(#pc)" />
<polygon points="632.00,369.30 678.40,369.30 678.40,437.00 632.00,437.00" fill="url(#pc)" />
<g clip-path="url(#cc1)"><ellipse cx="378" cy="84.5" rx="13" ry="4.5" fill="#5ab8d8" opacity="0.55"/><ellipse cx="413" cy="84.5" rx="7" ry="3" fill="#5ab8d8" opacity="0.4"/></g>
<rect x="369.7" y="83.6" width="19.5" height="1.9" fill="#f02a14"/><rect x="408.7" y="83.6" width="9.5" height="1.9" fill="#f02a14"/>
<polygon points="438.90,86.10 491.90,86.60 491.90,89.80 438.90,89.20" fill="#f02a14" />
<polygon points="500.30,82.90 561.60,84.80 561.60,88.40 500.30,86.00" fill="#f02a14" />
<polygon points="566.00,80.80 617.00,81.60 669.40,82.40 669.40,85.60 617.00,85.00 566.00,83.20" fill="#f02a14" />
<g clip-path="url(#cc2)"><ellipse cx="387" cy="219.3" rx="7" ry="3.2" fill="#3a70e0" opacity="0.65"/><ellipse cx="423" cy="219.3" rx="11" ry="5" fill="#5ab8d8" opacity="0.45"/></g>
<rect x="383.8" y="218.4" width="13.2" height="2" fill="#f02a14"/><rect x="412.4" y="218.4" width="19.9" height="2" fill="#f02a14"/>
<polygon points="459.00,217.90 506.40,217.90 507.00,220.60 459.60,220.60" fill="#f02a14" />
<polygon points="534.60,217.90 582.00,217.90 582.60,220.60 535.20,220.60" fill="#f02a14" />
<polygon points="605.40,217.70 653.30,217.70 654.10,220.70 606.20,220.70" fill="#f02a14" />
<g clip-path="url(#cc3)"><ellipse cx="381" cy="361.5" rx="12" ry="4.5" fill="#70d040" opacity="0.6"/><ellipse cx="420" cy="361.5" rx="9" ry="4" fill="#70d040" opacity="0.55"/><ellipse cx="381" cy="362" rx="10" ry="2" fill="#3040d8" opacity="0.8"/><ellipse cx="420" cy="361.8" rx="7" ry="1.8" fill="#3040d8" opacity="0.75"/></g>
</g>
<linearGradient id="cbar" x1="0" y1="0" x2="0" y2="1"><stop offset="0" stop-color="#ff2000"/><stop offset="0.1" stop-color="#ff7000"/><stop offset="0.2" stop-color="#f0f020"/><stop offset="0.32" stop-color="#50ff10"/><stop offset="0.5" stop-color="#30f020"/><stop offset="0.6" stop-color="#40f090"/><stop offset="0.72" stop-color="#50f0f0"/><stop offset="0.82" stop-color="#40a0ff"/><stop offset="1" stop-color="#1010ff"/></linearGradient>
<rect x="289.4" y="87" width="6.6" height="49.6" fill="url(#cbar)"/>
<rect x="299" y="231.7" width="5.3" height="49" fill="url(#cbar)"/>
<rect x="299" y="377.3" width="6" height="52.7" fill="url(#cbar)"/>
<text x="269.00" y="94.00" font-family='"Liberation Serif", serif' font-size="14" font-weight="normal" text-anchor="start" fill="#111" >0.6</text>
<text x="264.6" y="140.2" font-family='"Liberation Serif", serif' font-size="18" font-style="italic" fill="#111">γ</text>
<text x="274.60" y="141.40" font-family='"Liberation Serif", serif' font-size="15" font-weight="normal" text-anchor="start" fill="#111" >:</text>
<text x="280.40" y="141.40" font-family='"Liberation Serif", serif' font-size="15" font-weight="normal" text-anchor="start" fill="#111" >0</text>
<text x="277.30" y="238.00" font-family='"Liberation Serif", serif' font-size="13.5" font-weight="normal" text-anchor="start" fill="#111" >0.6</text>
<text x="266.8" y="283.8" font-family='"Liberation Serif", serif' font-size="18" font-style="italic" fill="#111">γ</text>
<text x="282.00" y="284.60" font-family='"Liberation Serif", serif' font-size="15" font-weight="bold" text-anchor="start" fill="#111" >:</text>
<text x="287.00" y="284.90" font-family='"Liberation Serif", serif' font-size="15" font-weight="normal" text-anchor="start" fill="#111" >0</text>
<text x="276.70" y="386.00" font-family='"Liberation Serif", serif' font-size="14" font-weight="normal" text-anchor="start" fill="#111" >9.5</text>
<text x="286.70" y="432.60" font-family='"Liberation Serif", serif' font-size="14" font-weight="normal" text-anchor="start" fill="#111" >0</text>
<text x="265.6" y="446.6" font-family='"Liberation Serif", serif' font-size="17" font-style="italic" fill="#111">τ</text>
<text x="275.6" y="449.2" font-family='"Liberation Serif", serif' font-size="12.5" font-style="italic" fill="#111">yz</text>
<text x="289.00" y="446.80" font-family='"Liberation Serif", serif' font-size="14" font-weight="normal" text-anchor="start" fill="#111" textLength="32.6" lengthAdjust="spacingAndGlyphs" >(GPa)</text>
<text x="278.50" y="11.70" font-family='"Liberation Sans", sans-serif' font-size="14" font-weight="normal" text-anchor="start" fill="#111" >9.34 GPa</text>
<text x="350.80" y="11.70" font-family='"Liberation Sans", sans-serif' font-size="14" font-weight="normal" text-anchor="start" fill="#111" >9.30 GPa</text>
<text x="419.30" y="11.70" font-family='"Liberation Sans", sans-serif' font-size="14" font-weight="normal" text-anchor="start" fill="#111" >7.80 GPa</text>
<text x="487.00" y="11.70" font-family='"Liberation Sans", sans-serif' font-size="14" font-weight="normal" text-anchor="start" fill="#111" >4.10 GPa</text>
<text x="570.00" y="11.70" font-family='"Liberation Sans", sans-serif' font-size="14" font-weight="normal" text-anchor="start" fill="#111" >-0.4 GPa</text>
<text x="266.00" y="28.40" font-family='"Liberation Serif", serif' font-size="18" font-weight="bold" text-anchor="start" fill="#000" >b</text>
<text x="339.20" y="28.40" font-family='"Liberation Serif", serif' font-size="18" font-weight="bold" text-anchor="start" fill="#000" >c</text>
<text x="406.80" y="28.80" font-family='"Liberation Serif", serif' font-size="18" font-weight="bold" text-anchor="start" fill="#000" >d</text>
<text x="477.50" y="25.80" font-family='"Liberation Serif", serif' font-size="18" font-weight="bold" text-anchor="start" fill="#000" >e</text>
<text x="549.60" y="28.00" font-family='"Liberation Serif", serif' font-size="18" font-weight="bold" text-anchor="start" fill="#000" >f</text>
<g stroke="#000" stroke-width="1.6" fill="none"><path d="M643.7,45.8V21M643.7,45.8H667M643.7,45.8L629,53.5"/></g>
<polygon points="643.7,12.6 639,22.2 648.6,22.2" fill="#000"/>
<polygon points="675.1,45.8 666,40.7 666,51" fill="#000"/>
<polygon points="622.3,57.5 626,50.2 633.2,56.8" fill="#000"/>
<text x="651.80" y="22.60" font-family='"Liberation Serif", serif' font-size="17" font-weight="normal" text-anchor="start" fill="#000" >y</text>
<text x="663.50" y="62.60" font-family='"Liberation Serif", serif' font-size="17" font-weight="normal" text-anchor="start" fill="#000" >z</text>
<text x="626.00" y="69.60" font-family='"Liberation Serif", serif' font-size="17" font-weight="normal" text-anchor="start" fill="#000" >x</text>
<rect x="290.4" y="466.7" width="385" height="6.2" fill="#3a7aa2"/>
<polygon points="674.5,461.9 683.4,470.0 674.5,478.3" fill="#3a7aa2"/>
<text x="400.40" y="461.30" font-family='"Liberation Sans", sans-serif' font-size="14" font-weight="normal" text-anchor="start" fill="#111" textLength="225.6" lengthAdjust="spacingAndGlyphs" >Progress of formation of shear band</text>
</svg>
</body></html>
